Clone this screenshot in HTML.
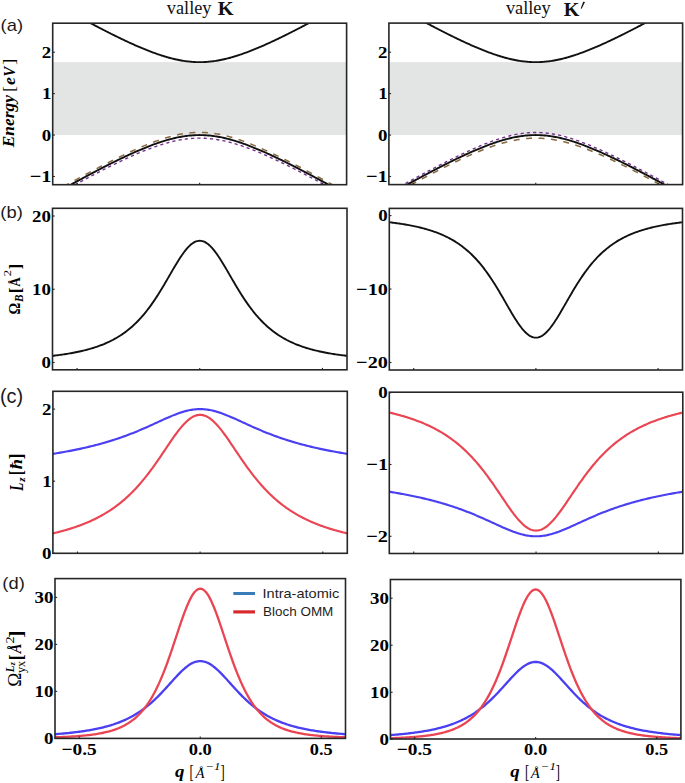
<!DOCTYPE html>
<html><head><meta charset="utf-8"><style>
html,body{margin:0;padding:0;background:#fff;}
body{width:685px;height:783px;overflow:hidden;font-family:"Liberation Serif",serif;}
svg{display:block;}
</style></head><body>
<svg width="685" height="783" viewBox="0 0 685 783">
<defs><clipPath id="caL"><rect x="52.70" y="23.20" width="293.90" height="161.50"/></clipPath><clipPath id="caR"><rect x="388.90" y="23.10" width="293.70" height="161.50"/></clipPath><clipPath id="cbL"><rect x="52.50" y="208.30" width="294.50" height="161.50"/></clipPath><clipPath id="cbR"><rect x="389.30" y="208.40" width="293.20" height="161.60"/></clipPath><clipPath id="ccL"><rect x="52.90" y="391.30" width="294.40" height="162.00"/></clipPath><clipPath id="ccR"><rect x="389.30" y="392.20" width="293.50" height="161.30"/></clipPath><clipPath id="cdL"><rect x="55.00" y="578.60" width="290.50" height="159.80"/></clipPath><clipPath id="cdR"><rect x="390.40" y="579.50" width="290.50" height="159.50"/></clipPath></defs>
<rect width="685" height="783" fill="#fff"/>
<rect x="52.70" y="62.14" width="293.90" height="72.93" fill="#e3e4e4"/>
<g clip-path="url(#caL)" fill="none" stroke-linecap="butt">
<path d="M52.70 192.60 L53.92 191.92 L55.15 191.23 L56.37 190.55 L57.60 189.86 L58.82 189.18 L60.05 188.50 L61.27 187.81 L62.50 187.13 L63.72 186.45 L64.95 185.77 L66.17 185.10 L67.39 184.42 L68.62 183.74 L69.84 183.07 L71.07 182.40 L72.29 181.72 L73.52 181.05 L74.74 180.38 L75.97 179.71 L77.19 179.05 L78.42 178.38 L79.64 177.71 L80.87 177.05 L82.09 176.39 L83.31 175.73 L84.54 175.07 L85.76 174.41 L86.99 173.75 L88.21 173.10 L89.44 172.44 L90.66 171.79 L91.89 171.14 L93.11 170.49 L94.34 169.84 L95.56 169.20 L96.78 168.56 L98.01 167.91 L99.23 167.27 L100.46 166.64 L101.68 166.00 L102.91 165.37 L104.13 164.74 L105.36 164.11 L106.58 163.48 L107.81 162.85 L109.03 162.23 L110.26 161.61 L111.48 161.00 L112.70 160.38 L113.93 159.77 L115.15 159.16 L116.38 158.55 L117.60 157.95 L118.83 157.35 L120.05 156.75 L121.28 156.16 L122.50 155.57 L123.73 154.98 L124.95 154.40 L126.17 153.82 L127.40 153.24 L128.62 152.67 L129.85 152.10 L131.07 151.53 L132.30 150.97 L133.52 150.42 L134.75 149.86 L135.97 149.32 L137.20 148.77 L138.42 148.24 L139.65 147.70 L140.87 147.18 L142.09 146.66 L143.32 146.14 L144.54 145.63 L145.77 145.12 L146.99 144.63 L148.22 144.13 L149.44 143.65 L150.67 143.17 L151.89 142.70 L153.12 142.23 L154.34 141.77 L155.56 141.32 L156.79 140.88 L158.01 140.45 L159.24 140.02 L160.46 139.60 L161.69 139.20 L162.91 138.80 L164.14 138.41 L165.36 138.03 L166.59 137.66 L167.81 137.30 L169.04 136.95 L170.26 136.61 L171.48 136.28 L172.71 135.96 L173.93 135.66 L175.16 135.36 L176.38 135.08 L177.61 134.81 L178.83 134.56 L180.06 134.31 L181.28 134.08 L182.51 133.87 L183.73 133.67 L184.95 133.48 L186.18 133.30 L187.40 133.14 L188.63 133.00 L189.85 132.87 L191.08 132.75 L192.30 132.65 L193.53 132.56 L194.75 132.49 L195.98 132.44 L197.20 132.40 L198.43 132.38 L199.65 132.37 L200.87 132.38 L202.10 132.40 L203.32 132.44 L204.55 132.49 L205.77 132.56 L207.00 132.65 L208.22 132.75 L209.45 132.87 L210.67 133.00 L211.90 133.14 L213.12 133.30 L214.35 133.48 L215.57 133.67 L216.79 133.87 L218.02 134.08 L219.24 134.31 L220.47 134.56 L221.69 134.81 L222.92 135.08 L224.14 135.36 L225.37 135.66 L226.59 135.96 L227.82 136.28 L229.04 136.61 L230.26 136.95 L231.49 137.30 L232.71 137.66 L233.94 138.03 L235.16 138.41 L236.39 138.80 L237.61 139.20 L238.84 139.60 L240.06 140.02 L241.29 140.45 L242.51 140.88 L243.74 141.32 L244.96 141.77 L246.18 142.23 L247.41 142.70 L248.63 143.17 L249.86 143.65 L251.08 144.13 L252.31 144.63 L253.53 145.12 L254.76 145.63 L255.98 146.14 L257.21 146.66 L258.43 147.18 L259.65 147.70 L260.88 148.24 L262.10 148.77 L263.33 149.32 L264.55 149.86 L265.78 150.42 L267.00 150.97 L268.23 151.53 L269.45 152.10 L270.68 152.67 L271.90 153.24 L273.12 153.82 L274.35 154.40 L275.57 154.98 L276.80 155.57 L278.02 156.16 L279.25 156.75 L280.47 157.35 L281.70 157.95 L282.92 158.55 L284.15 159.16 L285.37 159.77 L286.60 160.38 L287.82 161.00 L289.04 161.61 L290.27 162.23 L291.49 162.85 L292.72 163.48 L293.94 164.11 L295.17 164.74 L296.39 165.37 L297.62 166.00 L298.84 166.64 L300.07 167.27 L301.29 167.91 L302.52 168.56 L303.74 169.20 L304.96 169.84 L306.19 170.49 L307.41 171.14 L308.64 171.79 L309.86 172.44 L311.09 173.10 L312.31 173.75 L313.54 174.41 L314.76 175.07 L315.99 175.73 L317.21 176.39 L318.43 177.05 L319.66 177.71 L320.88 178.38 L322.11 179.05 L323.33 179.71 L324.56 180.38 L325.78 181.05 L327.01 181.72 L328.23 182.40 L329.46 183.07 L330.68 183.74 L331.90 184.42 L333.13 185.10 L334.35 185.77 L335.58 186.45 L336.80 187.13 L338.03 187.81 L339.25 188.50 L340.48 189.18 L341.70 189.86 L342.93 190.55 L344.15 191.23 L345.38 191.92 L346.60 192.60" stroke="#87683f" stroke-width="1.5" stroke-dasharray="6 6.5"/>
<path d="M52.70 197.03 L53.92 196.35 L55.15 195.66 L56.37 194.98 L57.60 194.30 L58.82 193.62 L60.05 192.94 L61.27 192.27 L62.50 191.59 L63.72 190.91 L64.95 190.24 L66.17 189.56 L67.39 188.89 L68.62 188.22 L69.84 187.55 L71.07 186.88 L72.29 186.21 L73.52 185.55 L74.74 184.88 L75.97 184.22 L77.19 183.55 L78.42 182.89 L79.64 182.23 L80.87 181.57 L82.09 180.92 L83.31 180.26 L84.54 179.61 L85.76 178.96 L86.99 178.30 L88.21 177.66 L89.44 177.01 L90.66 176.36 L91.89 175.72 L93.11 175.08 L94.34 174.44 L95.56 173.80 L96.78 173.16 L98.01 172.53 L99.23 171.89 L100.46 171.26 L101.68 170.64 L102.91 170.01 L104.13 169.39 L105.36 168.77 L106.58 168.15 L107.81 167.53 L109.03 166.92 L110.26 166.31 L111.48 165.70 L112.70 165.10 L113.93 164.50 L115.15 163.90 L116.38 163.30 L117.60 162.71 L118.83 162.12 L120.05 161.53 L121.28 160.95 L122.50 160.37 L123.73 159.80 L124.95 159.22 L126.17 158.66 L127.40 158.09 L128.62 157.53 L129.85 156.98 L131.07 156.43 L132.30 155.88 L133.52 155.34 L134.75 154.80 L135.97 154.27 L137.20 153.74 L138.42 153.22 L139.65 152.71 L140.87 152.20 L142.09 151.69 L143.32 151.19 L144.54 150.70 L145.77 150.21 L146.99 149.73 L148.22 149.26 L149.44 148.79 L150.67 148.33 L151.89 147.88 L153.12 147.43 L154.34 146.99 L155.56 146.56 L156.79 146.14 L158.01 145.73 L159.24 145.32 L160.46 144.93 L161.69 144.54 L162.91 144.16 L164.14 143.79 L165.36 143.43 L166.59 143.08 L167.81 142.75 L169.04 142.42 L170.26 142.10 L171.48 141.79 L172.71 141.49 L173.93 141.21 L175.16 140.94 L176.38 140.67 L177.61 140.42 L178.83 140.19 L180.06 139.96 L181.28 139.75 L182.51 139.55 L183.73 139.36 L184.95 139.19 L186.18 139.03 L187.40 138.88 L188.63 138.75 L189.85 138.63 L191.08 138.52 L192.30 138.43 L193.53 138.35 L194.75 138.28 L195.98 138.23 L197.20 138.20 L198.43 138.18 L199.65 138.17 L200.87 138.18 L202.10 138.20 L203.32 138.23 L204.55 138.28 L205.77 138.35 L207.00 138.43 L208.22 138.52 L209.45 138.63 L210.67 138.75 L211.90 138.88 L213.12 139.03 L214.35 139.19 L215.57 139.36 L216.79 139.55 L218.02 139.75 L219.24 139.96 L220.47 140.19 L221.69 140.42 L222.92 140.67 L224.14 140.94 L225.37 141.21 L226.59 141.49 L227.82 141.79 L229.04 142.10 L230.26 142.42 L231.49 142.75 L232.71 143.08 L233.94 143.43 L235.16 143.79 L236.39 144.16 L237.61 144.54 L238.84 144.93 L240.06 145.32 L241.29 145.73 L242.51 146.14 L243.74 146.56 L244.96 146.99 L246.18 147.43 L247.41 147.88 L248.63 148.33 L249.86 148.79 L251.08 149.26 L252.31 149.73 L253.53 150.21 L254.76 150.70 L255.98 151.19 L257.21 151.69 L258.43 152.20 L259.65 152.71 L260.88 153.22 L262.10 153.74 L263.33 154.27 L264.55 154.80 L265.78 155.34 L267.00 155.88 L268.23 156.43 L269.45 156.98 L270.68 157.53 L271.90 158.09 L273.12 158.66 L274.35 159.22 L275.57 159.80 L276.80 160.37 L278.02 160.95 L279.25 161.53 L280.47 162.12 L281.70 162.71 L282.92 163.30 L284.15 163.90 L285.37 164.50 L286.60 165.10 L287.82 165.70 L289.04 166.31 L290.27 166.92 L291.49 167.53 L292.72 168.15 L293.94 168.77 L295.17 169.39 L296.39 170.01 L297.62 170.64 L298.84 171.26 L300.07 171.89 L301.29 172.53 L302.52 173.16 L303.74 173.80 L304.96 174.44 L306.19 175.08 L307.41 175.72 L308.64 176.36 L309.86 177.01 L311.09 177.66 L312.31 178.30 L313.54 178.96 L314.76 179.61 L315.99 180.26 L317.21 180.92 L318.43 181.57 L319.66 182.23 L320.88 182.89 L322.11 183.55 L323.33 184.22 L324.56 184.88 L325.78 185.55 L327.01 186.21 L328.23 186.88 L329.46 187.55 L330.68 188.22 L331.90 188.89 L333.13 189.56 L334.35 190.24 L335.58 190.91 L336.80 191.59 L338.03 192.27 L339.25 192.94 L340.48 193.62 L341.70 194.30 L342.93 194.98 L344.15 195.66 L345.38 196.35 L346.60 197.03" stroke="#732f8c" stroke-width="1.35" stroke-dasharray="3.2 3.1"/>
<path d="M52.70 194.73 L53.92 194.04 L55.15 193.36 L56.37 192.67 L57.60 191.99 L58.82 191.31 L60.05 190.63 L61.27 189.95 L62.50 189.27 L63.72 188.59 L64.95 187.91 L66.17 187.24 L67.39 186.56 L68.62 185.89 L69.84 185.21 L71.07 184.54 L72.29 183.87 L73.52 183.20 L74.74 182.54 L75.97 181.87 L77.19 181.20 L78.42 180.54 L79.64 179.88 L80.87 179.21 L82.09 178.55 L83.31 177.89 L84.54 177.24 L85.76 176.58 L86.99 175.93 L88.21 175.27 L89.44 174.62 L90.66 173.97 L91.89 173.33 L93.11 172.68 L94.34 172.04 L95.56 171.39 L96.78 170.75 L98.01 170.11 L99.23 169.48 L100.46 168.84 L101.68 168.21 L102.91 167.58 L104.13 166.95 L105.36 166.33 L106.58 165.70 L107.81 165.08 L109.03 164.46 L110.26 163.85 L111.48 163.24 L112.70 162.63 L113.93 162.02 L115.15 161.41 L116.38 160.81 L117.60 160.21 L118.83 159.62 L120.05 159.02 L121.28 158.43 L122.50 157.85 L123.73 157.27 L124.95 156.69 L126.17 156.11 L127.40 155.54 L128.62 154.97 L129.85 154.41 L131.07 153.85 L132.30 153.30 L133.52 152.75 L134.75 152.20 L135.97 151.66 L137.20 151.13 L138.42 150.59 L139.65 150.07 L140.87 149.55 L142.09 149.03 L143.32 148.52 L144.54 148.02 L145.77 147.52 L146.99 147.03 L148.22 146.55 L149.44 146.07 L150.67 145.60 L151.89 145.14 L153.12 144.68 L154.34 144.23 L155.56 143.79 L156.79 143.36 L158.01 142.93 L159.24 142.51 L160.46 142.10 L161.69 141.70 L162.91 141.31 L164.14 140.93 L165.36 140.56 L166.59 140.20 L167.81 139.85 L169.04 139.51 L170.26 139.18 L171.48 138.86 L172.71 138.55 L173.93 138.25 L175.16 137.97 L176.38 137.69 L177.61 137.43 L178.83 137.19 L180.06 136.95 L181.28 136.73 L182.51 136.52 L183.73 136.32 L184.95 136.14 L186.18 135.97 L187.40 135.82 L188.63 135.68 L189.85 135.55 L191.08 135.44 L192.30 135.34 L193.53 135.26 L194.75 135.19 L195.98 135.14 L197.20 135.10 L198.43 135.08 L199.65 135.07 L200.87 135.08 L202.10 135.10 L203.32 135.14 L204.55 135.19 L205.77 135.26 L207.00 135.34 L208.22 135.44 L209.45 135.55 L210.67 135.68 L211.90 135.82 L213.12 135.97 L214.35 136.14 L215.57 136.32 L216.79 136.52 L218.02 136.73 L219.24 136.95 L220.47 137.19 L221.69 137.43 L222.92 137.69 L224.14 137.97 L225.37 138.25 L226.59 138.55 L227.82 138.86 L229.04 139.18 L230.26 139.51 L231.49 139.85 L232.71 140.20 L233.94 140.56 L235.16 140.93 L236.39 141.31 L237.61 141.70 L238.84 142.10 L240.06 142.51 L241.29 142.93 L242.51 143.36 L243.74 143.79 L244.96 144.23 L246.18 144.68 L247.41 145.14 L248.63 145.60 L249.86 146.07 L251.08 146.55 L252.31 147.03 L253.53 147.52 L254.76 148.02 L255.98 148.52 L257.21 149.03 L258.43 149.55 L259.65 150.07 L260.88 150.59 L262.10 151.13 L263.33 151.66 L264.55 152.20 L265.78 152.75 L267.00 153.30 L268.23 153.85 L269.45 154.41 L270.68 154.97 L271.90 155.54 L273.12 156.11 L274.35 156.69 L275.57 157.27 L276.80 157.85 L278.02 158.43 L279.25 159.02 L280.47 159.62 L281.70 160.21 L282.92 160.81 L284.15 161.41 L285.37 162.02 L286.60 162.63 L287.82 163.24 L289.04 163.85 L290.27 164.46 L291.49 165.08 L292.72 165.70 L293.94 166.33 L295.17 166.95 L296.39 167.58 L297.62 168.21 L298.84 168.84 L300.07 169.48 L301.29 170.11 L302.52 170.75 L303.74 171.39 L304.96 172.04 L306.19 172.68 L307.41 173.33 L308.64 173.97 L309.86 174.62 L311.09 175.27 L312.31 175.93 L313.54 176.58 L314.76 177.24 L315.99 177.89 L317.21 178.55 L318.43 179.21 L319.66 179.88 L320.88 180.54 L322.11 181.20 L323.33 181.87 L324.56 182.54 L325.78 183.20 L327.01 183.87 L328.23 184.54 L329.46 185.21 L330.68 185.89 L331.90 186.56 L333.13 187.24 L334.35 187.91 L335.58 188.59 L336.80 189.27 L338.03 189.95 L339.25 190.63 L340.48 191.31 L341.70 191.99 L342.93 192.67 L344.15 193.36 L345.38 194.04 L346.60 194.73" stroke="#111" stroke-width="1.9"/>
<path d="M52.70 2.49 L53.92 3.17 L55.15 3.86 L56.37 4.54 L57.60 5.22 L58.82 5.91 L60.05 6.59 L61.27 7.27 L62.50 7.95 L63.72 8.62 L64.95 9.30 L66.17 9.98 L67.39 10.65 L68.62 11.33 L69.84 12.00 L71.07 12.67 L72.29 13.34 L73.52 14.01 L74.74 14.68 L75.97 15.35 L77.19 16.01 L78.42 16.68 L79.64 17.34 L80.87 18.00 L82.09 18.66 L83.31 19.32 L84.54 19.98 L85.76 20.63 L86.99 21.29 L88.21 21.94 L89.44 22.59 L90.66 23.24 L91.89 23.89 L93.11 24.53 L94.34 25.18 L95.56 25.82 L96.78 26.46 L98.01 27.10 L99.23 27.74 L100.46 28.37 L101.68 29.00 L102.91 29.63 L104.13 30.26 L105.36 30.89 L106.58 31.51 L107.81 32.13 L109.03 32.75 L110.26 33.37 L111.48 33.98 L112.70 34.59 L113.93 35.20 L115.15 35.80 L116.38 36.40 L117.60 37.00 L118.83 37.60 L120.05 38.19 L121.28 38.78 L122.50 39.37 L123.73 39.95 L124.95 40.53 L126.17 41.10 L127.40 41.67 L128.62 42.24 L129.85 42.80 L131.07 43.36 L132.30 43.92 L133.52 44.47 L134.75 45.01 L135.97 45.55 L137.20 46.09 L138.42 46.62 L139.65 47.15 L140.87 47.67 L142.09 48.18 L143.32 48.69 L144.54 49.19 L145.77 49.69 L146.99 50.18 L148.22 50.67 L149.44 51.14 L150.67 51.61 L151.89 52.08 L153.12 52.53 L154.34 52.98 L155.56 53.43 L156.79 53.86 L158.01 54.28 L159.24 54.70 L160.46 55.11 L161.69 55.51 L162.91 55.90 L164.14 56.28 L165.36 56.65 L166.59 57.01 L167.81 57.37 L169.04 57.71 L170.26 58.04 L171.48 58.36 L172.71 58.67 L173.93 58.96 L175.16 59.25 L176.38 59.52 L177.61 59.78 L178.83 60.03 L180.06 60.26 L181.28 60.49 L182.51 60.70 L183.73 60.89 L184.95 61.08 L186.18 61.24 L187.40 61.40 L188.63 61.54 L189.85 61.67 L191.08 61.78 L192.30 61.87 L193.53 61.96 L194.75 62.02 L195.98 62.08 L197.20 62.11 L198.43 62.14 L199.65 62.14 L200.87 62.14 L202.10 62.11 L203.32 62.08 L204.55 62.02 L205.77 61.96 L207.00 61.87 L208.22 61.78 L209.45 61.67 L210.67 61.54 L211.90 61.40 L213.12 61.24 L214.35 61.08 L215.57 60.89 L216.79 60.70 L218.02 60.49 L219.24 60.26 L220.47 60.03 L221.69 59.78 L222.92 59.52 L224.14 59.25 L225.37 58.96 L226.59 58.67 L227.82 58.36 L229.04 58.04 L230.26 57.71 L231.49 57.37 L232.71 57.01 L233.94 56.65 L235.16 56.28 L236.39 55.90 L237.61 55.51 L238.84 55.11 L240.06 54.70 L241.29 54.28 L242.51 53.86 L243.74 53.43 L244.96 52.98 L246.18 52.53 L247.41 52.08 L248.63 51.61 L249.86 51.14 L251.08 50.67 L252.31 50.18 L253.53 49.69 L254.76 49.19 L255.98 48.69 L257.21 48.18 L258.43 47.67 L259.65 47.15 L260.88 46.62 L262.10 46.09 L263.33 45.55 L264.55 45.01 L265.78 44.47 L267.00 43.92 L268.23 43.36 L269.45 42.80 L270.68 42.24 L271.90 41.67 L273.12 41.10 L274.35 40.53 L275.57 39.95 L276.80 39.37 L278.02 38.78 L279.25 38.19 L280.47 37.60 L281.70 37.00 L282.92 36.40 L284.15 35.80 L285.37 35.20 L286.60 34.59 L287.82 33.98 L289.04 33.37 L290.27 32.75 L291.49 32.13 L292.72 31.51 L293.94 30.89 L295.17 30.26 L296.39 29.63 L297.62 29.00 L298.84 28.37 L300.07 27.74 L301.29 27.10 L302.52 26.46 L303.74 25.82 L304.96 25.18 L306.19 24.53 L307.41 23.89 L308.64 23.24 L309.86 22.59 L311.09 21.94 L312.31 21.29 L313.54 20.63 L314.76 19.98 L315.99 19.32 L317.21 18.66 L318.43 18.00 L319.66 17.34 L320.88 16.68 L322.11 16.01 L323.33 15.35 L324.56 14.68 L325.78 14.01 L327.01 13.34 L328.23 12.67 L329.46 12.00 L330.68 11.33 L331.90 10.65 L333.13 9.98 L334.35 9.30 L335.58 8.62 L336.80 7.95 L338.03 7.27 L339.25 6.59 L340.48 5.91 L341.70 5.22 L342.93 4.54 L344.15 3.86 L345.38 3.17 L346.60 2.49" stroke="#111" stroke-width="1.9"/>
</g>
<rect x="52.70" y="23.20" width="293.90" height="161.50" fill="none" stroke="#262626" stroke-width="1.6"/>
<line x1="77.19" y1="184.70" x2="77.19" y2="182.80" stroke="#262626" stroke-width="1.1"/><line x1="199.65" y1="184.70" x2="199.65" y2="182.80" stroke="#262626" stroke-width="1.1"/><line x1="322.11" y1="184.70" x2="322.11" y2="182.80" stroke="#262626" stroke-width="1.1"/>
<line x1="52.70" y1="176.50" x2="54.90" y2="176.50" stroke="#262626" stroke-width="1.1"/><line x1="52.70" y1="135.07" x2="54.90" y2="135.07" stroke="#262626" stroke-width="1.1"/><line x1="52.70" y1="93.63" x2="54.90" y2="93.63" stroke="#262626" stroke-width="1.1"/><line x1="52.70" y1="52.20" x2="54.90" y2="52.20" stroke="#262626" stroke-width="1.1"/>
<text x="29.72" y="182.15" font-family='"Liberation Serif",serif' font-size="17.20" font-weight="bold" font-style="normal" fill="#000" textLength="21.83" lengthAdjust="spacingAndGlyphs">−1</text><text x="41.76" y="140.71" font-family='"Liberation Serif",serif' font-size="17.20" font-weight="bold" font-style="normal" fill="#000" textLength="9.46" lengthAdjust="spacingAndGlyphs">0</text><text x="42.02" y="99.28" font-family='"Liberation Serif",serif' font-size="17.20" font-weight="bold" font-style="normal" fill="#000" textLength="9.46" lengthAdjust="spacingAndGlyphs">1</text><text x="41.85" y="57.84" font-family='"Liberation Serif",serif' font-size="17.20" font-weight="bold" font-style="normal" fill="#000" textLength="9.46" lengthAdjust="spacingAndGlyphs">2</text>
<rect x="388.90" y="62.14" width="293.70" height="72.93" fill="#e3e4e4"/>
<g clip-path="url(#caR)" fill="none" stroke-linecap="butt">
<path d="M388.90 192.68 L390.12 192.00 L391.35 191.31 L392.57 190.62 L393.79 189.94 L395.02 189.26 L396.24 188.57 L397.47 187.89 L398.69 187.21 L399.91 186.53 L401.14 185.85 L402.36 185.18 L403.58 184.50 L404.81 183.82 L406.03 183.15 L407.26 182.48 L408.48 181.80 L409.70 181.13 L410.93 180.46 L412.15 179.79 L413.38 179.13 L414.60 178.46 L415.82 177.79 L417.05 177.13 L418.27 176.47 L419.49 175.81 L420.72 175.15 L421.94 174.49 L423.16 173.83 L424.39 173.18 L425.61 172.52 L426.84 171.87 L428.06 171.22 L429.28 170.57 L430.51 169.93 L431.73 169.28 L432.95 168.64 L434.18 168.00 L435.40 167.36 L436.63 166.72 L437.85 166.08 L439.07 165.45 L440.30 164.82 L441.52 164.19 L442.75 163.56 L443.97 162.94 L445.19 162.32 L446.42 161.70 L447.64 161.08 L448.86 160.46 L450.09 159.85 L451.31 159.24 L452.53 158.64 L453.76 158.03 L454.98 157.43 L456.21 156.84 L457.43 156.24 L458.65 155.65 L459.88 155.06 L461.10 154.48 L462.32 153.90 L463.55 153.32 L464.77 152.75 L466.00 152.18 L467.22 151.62 L468.44 151.06 L469.67 150.50 L470.89 149.95 L472.12 149.40 L473.34 148.86 L474.56 148.32 L475.79 147.79 L477.01 147.27 L478.23 146.74 L479.46 146.23 L480.68 145.72 L481.90 145.21 L483.13 144.71 L484.35 144.22 L485.58 143.74 L486.80 143.26 L488.02 142.79 L489.25 142.32 L490.47 141.86 L491.69 141.42 L492.92 140.97 L494.14 140.54 L495.37 140.11 L496.59 139.70 L497.81 139.29 L499.04 138.89 L500.26 138.50 L501.49 138.12 L502.71 137.75 L503.93 137.39 L505.16 137.04 L506.38 136.70 L507.60 136.37 L508.83 136.06 L510.05 135.75 L511.27 135.46 L512.50 135.18 L513.72 134.91 L514.95 134.65 L516.17 134.41 L517.39 134.18 L518.62 133.97 L519.84 133.76 L521.06 133.58 L522.29 133.40 L523.51 133.24 L524.74 133.10 L525.96 132.97 L527.18 132.85 L528.41 132.75 L529.63 132.66 L530.86 132.59 L532.08 132.54 L533.30 132.50 L534.53 132.48 L535.75 132.47 L536.97 132.48 L538.20 132.50 L539.42 132.54 L540.64 132.59 L541.87 132.66 L543.09 132.75 L544.32 132.85 L545.54 132.97 L546.76 133.10 L547.99 133.24 L549.21 133.40 L550.44 133.58 L551.66 133.76 L552.88 133.97 L554.11 134.18 L555.33 134.41 L556.55 134.65 L557.78 134.91 L559.00 135.18 L560.23 135.46 L561.45 135.75 L562.67 136.06 L563.90 136.37 L565.12 136.70 L566.34 137.04 L567.57 137.39 L568.79 137.75 L570.01 138.12 L571.24 138.50 L572.46 138.89 L573.69 139.29 L574.91 139.70 L576.13 140.11 L577.36 140.54 L578.58 140.97 L579.80 141.42 L581.03 141.86 L582.25 142.32 L583.48 142.79 L584.70 143.26 L585.92 143.74 L587.15 144.22 L588.37 144.71 L589.60 145.21 L590.82 145.72 L592.04 146.23 L593.27 146.74 L594.49 147.27 L595.71 147.79 L596.94 148.32 L598.16 148.86 L599.38 149.40 L600.61 149.95 L601.83 150.50 L603.06 151.06 L604.28 151.62 L605.50 152.18 L606.73 152.75 L607.95 153.32 L609.18 153.90 L610.40 154.48 L611.62 155.06 L612.85 155.65 L614.07 156.24 L615.29 156.84 L616.52 157.43 L617.74 158.03 L618.97 158.64 L620.19 159.24 L621.41 159.85 L622.64 160.46 L623.86 161.08 L625.08 161.70 L626.31 162.32 L627.53 162.94 L628.75 163.56 L629.98 164.19 L631.20 164.82 L632.43 165.45 L633.65 166.08 L634.87 166.72 L636.10 167.36 L637.32 168.00 L638.55 168.64 L639.77 169.28 L640.99 169.93 L642.22 170.57 L643.44 171.22 L644.66 171.87 L645.89 172.52 L647.11 173.18 L648.34 173.83 L649.56 174.49 L650.78 175.15 L652.01 175.81 L653.23 176.47 L654.45 177.13 L655.68 177.79 L656.90 178.46 L658.12 179.13 L659.35 179.79 L660.57 180.46 L661.80 181.13 L663.02 181.80 L664.24 182.48 L665.47 183.15 L666.69 183.82 L667.91 184.50 L669.14 185.18 L670.36 185.85 L671.59 186.53 L672.81 187.21 L674.03 187.89 L675.26 188.57 L676.48 189.26 L677.71 189.94 L678.93 190.62 L680.15 191.31 L681.38 192.00 L682.60 192.68" stroke="#732f8c" stroke-width="1.35" stroke-dasharray="3.2 3.1"/>
<path d="M388.90 197.03 L390.12 196.35 L391.35 195.66 L392.57 194.98 L393.79 194.30 L395.02 193.62 L396.24 192.94 L397.47 192.27 L398.69 191.59 L399.91 190.91 L401.14 190.24 L402.36 189.56 L403.58 188.89 L404.81 188.22 L406.03 187.55 L407.26 186.88 L408.48 186.21 L409.70 185.55 L410.93 184.88 L412.15 184.22 L413.38 183.55 L414.60 182.89 L415.82 182.23 L417.05 181.57 L418.27 180.92 L419.49 180.26 L420.72 179.61 L421.94 178.96 L423.16 178.30 L424.39 177.66 L425.61 177.01 L426.84 176.36 L428.06 175.72 L429.28 175.08 L430.51 174.44 L431.73 173.80 L432.95 173.16 L434.18 172.53 L435.40 171.89 L436.63 171.26 L437.85 170.64 L439.07 170.01 L440.30 169.39 L441.52 168.77 L442.75 168.15 L443.97 167.53 L445.19 166.92 L446.42 166.31 L447.64 165.70 L448.86 165.10 L450.09 164.50 L451.31 163.90 L452.53 163.30 L453.76 162.71 L454.98 162.12 L456.21 161.53 L457.43 160.95 L458.65 160.37 L459.88 159.80 L461.10 159.22 L462.32 158.66 L463.55 158.09 L464.77 157.53 L466.00 156.98 L467.22 156.43 L468.44 155.88 L469.67 155.34 L470.89 154.80 L472.12 154.27 L473.34 153.74 L474.56 153.22 L475.79 152.71 L477.01 152.20 L478.23 151.69 L479.46 151.19 L480.68 150.70 L481.90 150.21 L483.13 149.73 L484.35 149.26 L485.58 148.79 L486.80 148.33 L488.02 147.88 L489.25 147.43 L490.47 146.99 L491.69 146.56 L492.92 146.14 L494.14 145.73 L495.37 145.32 L496.59 144.93 L497.81 144.54 L499.04 144.16 L500.26 143.79 L501.49 143.43 L502.71 143.08 L503.93 142.75 L505.16 142.42 L506.38 142.10 L507.60 141.79 L508.83 141.49 L510.05 141.21 L511.27 140.94 L512.50 140.67 L513.72 140.42 L514.95 140.19 L516.17 139.96 L517.39 139.75 L518.62 139.55 L519.84 139.36 L521.06 139.19 L522.29 139.03 L523.51 138.88 L524.74 138.75 L525.96 138.63 L527.18 138.52 L528.41 138.43 L529.63 138.35 L530.86 138.28 L532.08 138.23 L533.30 138.20 L534.53 138.18 L535.75 138.17 L536.97 138.18 L538.20 138.20 L539.42 138.23 L540.64 138.28 L541.87 138.35 L543.09 138.43 L544.32 138.52 L545.54 138.63 L546.76 138.75 L547.99 138.88 L549.21 139.03 L550.44 139.19 L551.66 139.36 L552.88 139.55 L554.11 139.75 L555.33 139.96 L556.55 140.19 L557.78 140.42 L559.00 140.67 L560.23 140.94 L561.45 141.21 L562.67 141.49 L563.90 141.79 L565.12 142.10 L566.34 142.42 L567.57 142.75 L568.79 143.08 L570.01 143.43 L571.24 143.79 L572.46 144.16 L573.69 144.54 L574.91 144.93 L576.13 145.32 L577.36 145.73 L578.58 146.14 L579.80 146.56 L581.03 146.99 L582.25 147.43 L583.48 147.88 L584.70 148.33 L585.92 148.79 L587.15 149.26 L588.37 149.73 L589.60 150.21 L590.82 150.70 L592.04 151.19 L593.27 151.69 L594.49 152.20 L595.71 152.71 L596.94 153.22 L598.16 153.74 L599.38 154.27 L600.61 154.80 L601.83 155.34 L603.06 155.88 L604.28 156.43 L605.50 156.98 L606.73 157.53 L607.95 158.09 L609.18 158.66 L610.40 159.22 L611.62 159.80 L612.85 160.37 L614.07 160.95 L615.29 161.53 L616.52 162.12 L617.74 162.71 L618.97 163.30 L620.19 163.90 L621.41 164.50 L622.64 165.10 L623.86 165.70 L625.08 166.31 L626.31 166.92 L627.53 167.53 L628.75 168.15 L629.98 168.77 L631.20 169.39 L632.43 170.01 L633.65 170.64 L634.87 171.26 L636.10 171.89 L637.32 172.53 L638.55 173.16 L639.77 173.80 L640.99 174.44 L642.22 175.08 L643.44 175.72 L644.66 176.36 L645.89 177.01 L647.11 177.66 L648.34 178.30 L649.56 178.96 L650.78 179.61 L652.01 180.26 L653.23 180.92 L654.45 181.57 L655.68 182.23 L656.90 182.89 L658.12 183.55 L659.35 184.22 L660.57 184.88 L661.80 185.55 L663.02 186.21 L664.24 186.88 L665.47 187.55 L666.69 188.22 L667.91 188.89 L669.14 189.56 L670.36 190.24 L671.59 190.91 L672.81 191.59 L674.03 192.27 L675.26 192.94 L676.48 193.62 L677.71 194.30 L678.93 194.98 L680.15 195.66 L681.38 196.35 L682.60 197.03" stroke="#87683f" stroke-width="1.5" stroke-dasharray="6 6.5"/>
<path d="M388.90 194.73 L390.12 194.04 L391.35 193.36 L392.57 192.67 L393.79 191.99 L395.02 191.31 L396.24 190.63 L397.47 189.95 L398.69 189.27 L399.91 188.59 L401.14 187.91 L402.36 187.24 L403.58 186.56 L404.81 185.89 L406.03 185.21 L407.26 184.54 L408.48 183.87 L409.70 183.20 L410.93 182.54 L412.15 181.87 L413.38 181.20 L414.60 180.54 L415.82 179.88 L417.05 179.21 L418.27 178.55 L419.49 177.89 L420.72 177.24 L421.94 176.58 L423.16 175.93 L424.39 175.27 L425.61 174.62 L426.84 173.97 L428.06 173.33 L429.28 172.68 L430.51 172.04 L431.73 171.39 L432.95 170.75 L434.18 170.11 L435.40 169.48 L436.63 168.84 L437.85 168.21 L439.07 167.58 L440.30 166.95 L441.52 166.33 L442.75 165.70 L443.97 165.08 L445.19 164.46 L446.42 163.85 L447.64 163.24 L448.86 162.63 L450.09 162.02 L451.31 161.41 L452.53 160.81 L453.76 160.21 L454.98 159.62 L456.21 159.02 L457.43 158.43 L458.65 157.85 L459.88 157.27 L461.10 156.69 L462.32 156.11 L463.55 155.54 L464.77 154.97 L466.00 154.41 L467.22 153.85 L468.44 153.30 L469.67 152.75 L470.89 152.20 L472.12 151.66 L473.34 151.13 L474.56 150.59 L475.79 150.07 L477.01 149.55 L478.23 149.03 L479.46 148.52 L480.68 148.02 L481.90 147.52 L483.13 147.03 L484.35 146.55 L485.58 146.07 L486.80 145.60 L488.02 145.14 L489.25 144.68 L490.47 144.23 L491.69 143.79 L492.92 143.36 L494.14 142.93 L495.37 142.51 L496.59 142.10 L497.81 141.70 L499.04 141.31 L500.26 140.93 L501.49 140.56 L502.71 140.20 L503.93 139.85 L505.16 139.51 L506.38 139.18 L507.60 138.86 L508.83 138.55 L510.05 138.25 L511.27 137.97 L512.50 137.69 L513.72 137.43 L514.95 137.19 L516.17 136.95 L517.39 136.73 L518.62 136.52 L519.84 136.32 L521.06 136.14 L522.29 135.97 L523.51 135.82 L524.74 135.68 L525.96 135.55 L527.18 135.44 L528.41 135.34 L529.63 135.26 L530.86 135.19 L532.08 135.14 L533.30 135.10 L534.53 135.08 L535.75 135.07 L536.97 135.08 L538.20 135.10 L539.42 135.14 L540.64 135.19 L541.87 135.26 L543.09 135.34 L544.32 135.44 L545.54 135.55 L546.76 135.68 L547.99 135.82 L549.21 135.97 L550.44 136.14 L551.66 136.32 L552.88 136.52 L554.11 136.73 L555.33 136.95 L556.55 137.19 L557.78 137.43 L559.00 137.69 L560.23 137.97 L561.45 138.25 L562.67 138.55 L563.90 138.86 L565.12 139.18 L566.34 139.51 L567.57 139.85 L568.79 140.20 L570.01 140.56 L571.24 140.93 L572.46 141.31 L573.69 141.70 L574.91 142.10 L576.13 142.51 L577.36 142.93 L578.58 143.36 L579.80 143.79 L581.03 144.23 L582.25 144.68 L583.48 145.14 L584.70 145.60 L585.92 146.07 L587.15 146.55 L588.37 147.03 L589.60 147.52 L590.82 148.02 L592.04 148.52 L593.27 149.03 L594.49 149.55 L595.71 150.07 L596.94 150.59 L598.16 151.13 L599.38 151.66 L600.61 152.20 L601.83 152.75 L603.06 153.30 L604.28 153.85 L605.50 154.41 L606.73 154.97 L607.95 155.54 L609.18 156.11 L610.40 156.69 L611.62 157.27 L612.85 157.85 L614.07 158.43 L615.29 159.02 L616.52 159.62 L617.74 160.21 L618.97 160.81 L620.19 161.41 L621.41 162.02 L622.64 162.63 L623.86 163.24 L625.08 163.85 L626.31 164.46 L627.53 165.08 L628.75 165.70 L629.98 166.33 L631.20 166.95 L632.43 167.58 L633.65 168.21 L634.87 168.84 L636.10 169.48 L637.32 170.11 L638.55 170.75 L639.77 171.39 L640.99 172.04 L642.22 172.68 L643.44 173.33 L644.66 173.97 L645.89 174.62 L647.11 175.27 L648.34 175.93 L649.56 176.58 L650.78 177.24 L652.01 177.89 L653.23 178.55 L654.45 179.21 L655.68 179.88 L656.90 180.54 L658.12 181.20 L659.35 181.87 L660.57 182.54 L661.80 183.20 L663.02 183.87 L664.24 184.54 L665.47 185.21 L666.69 185.89 L667.91 186.56 L669.14 187.24 L670.36 187.91 L671.59 188.59 L672.81 189.27 L674.03 189.95 L675.26 190.63 L676.48 191.31 L677.71 191.99 L678.93 192.67 L680.15 193.36 L681.38 194.04 L682.60 194.73" stroke="#111" stroke-width="1.9"/>
<path d="M388.90 2.49 L390.12 3.17 L391.35 3.86 L392.57 4.54 L393.79 5.22 L395.02 5.91 L396.24 6.59 L397.47 7.27 L398.69 7.95 L399.91 8.62 L401.14 9.30 L402.36 9.98 L403.58 10.65 L404.81 11.33 L406.03 12.00 L407.26 12.67 L408.48 13.34 L409.70 14.01 L410.93 14.68 L412.15 15.35 L413.38 16.01 L414.60 16.68 L415.82 17.34 L417.05 18.00 L418.27 18.66 L419.49 19.32 L420.72 19.98 L421.94 20.63 L423.16 21.29 L424.39 21.94 L425.61 22.59 L426.84 23.24 L428.06 23.89 L429.28 24.53 L430.51 25.18 L431.73 25.82 L432.95 26.46 L434.18 27.10 L435.40 27.74 L436.63 28.37 L437.85 29.00 L439.07 29.63 L440.30 30.26 L441.52 30.89 L442.75 31.51 L443.97 32.13 L445.19 32.75 L446.42 33.37 L447.64 33.98 L448.86 34.59 L450.09 35.20 L451.31 35.80 L452.53 36.40 L453.76 37.00 L454.98 37.60 L456.21 38.19 L457.43 38.78 L458.65 39.37 L459.88 39.95 L461.10 40.53 L462.32 41.10 L463.55 41.67 L464.77 42.24 L466.00 42.80 L467.22 43.36 L468.44 43.92 L469.67 44.47 L470.89 45.01 L472.12 45.55 L473.34 46.09 L474.56 46.62 L475.79 47.15 L477.01 47.67 L478.23 48.18 L479.46 48.69 L480.68 49.19 L481.90 49.69 L483.13 50.18 L484.35 50.67 L485.58 51.14 L486.80 51.61 L488.02 52.08 L489.25 52.53 L490.47 52.98 L491.69 53.43 L492.92 53.86 L494.14 54.28 L495.37 54.70 L496.59 55.11 L497.81 55.51 L499.04 55.90 L500.26 56.28 L501.49 56.65 L502.71 57.01 L503.93 57.37 L505.16 57.71 L506.38 58.04 L507.60 58.36 L508.83 58.67 L510.05 58.96 L511.27 59.25 L512.50 59.52 L513.72 59.78 L514.95 60.03 L516.17 60.26 L517.39 60.49 L518.62 60.70 L519.84 60.89 L521.06 61.08 L522.29 61.24 L523.51 61.40 L524.74 61.54 L525.96 61.67 L527.18 61.78 L528.41 61.87 L529.63 61.96 L530.86 62.02 L532.08 62.08 L533.30 62.11 L534.53 62.14 L535.75 62.14 L536.97 62.14 L538.20 62.11 L539.42 62.08 L540.64 62.02 L541.87 61.96 L543.09 61.87 L544.32 61.78 L545.54 61.67 L546.76 61.54 L547.99 61.40 L549.21 61.24 L550.44 61.08 L551.66 60.89 L552.88 60.70 L554.11 60.49 L555.33 60.26 L556.55 60.03 L557.78 59.78 L559.00 59.52 L560.23 59.25 L561.45 58.96 L562.67 58.67 L563.90 58.36 L565.12 58.04 L566.34 57.71 L567.57 57.37 L568.79 57.01 L570.01 56.65 L571.24 56.28 L572.46 55.90 L573.69 55.51 L574.91 55.11 L576.13 54.70 L577.36 54.28 L578.58 53.86 L579.80 53.43 L581.03 52.98 L582.25 52.53 L583.48 52.08 L584.70 51.61 L585.92 51.14 L587.15 50.67 L588.37 50.18 L589.60 49.69 L590.82 49.19 L592.04 48.69 L593.27 48.18 L594.49 47.67 L595.71 47.15 L596.94 46.62 L598.16 46.09 L599.38 45.55 L600.61 45.01 L601.83 44.47 L603.06 43.92 L604.28 43.36 L605.50 42.80 L606.73 42.24 L607.95 41.67 L609.18 41.10 L610.40 40.53 L611.62 39.95 L612.85 39.37 L614.07 38.78 L615.29 38.19 L616.52 37.60 L617.74 37.00 L618.97 36.40 L620.19 35.80 L621.41 35.20 L622.64 34.59 L623.86 33.98 L625.08 33.37 L626.31 32.75 L627.53 32.13 L628.75 31.51 L629.98 30.89 L631.20 30.26 L632.43 29.63 L633.65 29.00 L634.87 28.37 L636.10 27.74 L637.32 27.10 L638.55 26.46 L639.77 25.82 L640.99 25.18 L642.22 24.53 L643.44 23.89 L644.66 23.24 L645.89 22.59 L647.11 21.94 L648.34 21.29 L649.56 20.63 L650.78 19.98 L652.01 19.32 L653.23 18.66 L654.45 18.00 L655.68 17.34 L656.90 16.68 L658.12 16.01 L659.35 15.35 L660.57 14.68 L661.80 14.01 L663.02 13.34 L664.24 12.67 L665.47 12.00 L666.69 11.33 L667.91 10.65 L669.14 9.98 L670.36 9.30 L671.59 8.62 L672.81 7.95 L674.03 7.27 L675.26 6.59 L676.48 5.91 L677.71 5.22 L678.93 4.54 L680.15 3.86 L681.38 3.17 L682.60 2.49" stroke="#111" stroke-width="1.9"/>
</g>
<rect x="388.90" y="23.10" width="293.70" height="161.50" fill="none" stroke="#262626" stroke-width="1.6"/>
<line x1="413.38" y1="184.60" x2="413.38" y2="182.70" stroke="#262626" stroke-width="1.1"/><line x1="535.75" y1="184.60" x2="535.75" y2="182.70" stroke="#262626" stroke-width="1.1"/><line x1="658.12" y1="184.60" x2="658.12" y2="182.70" stroke="#262626" stroke-width="1.1"/>
<line x1="388.90" y1="176.50" x2="391.10" y2="176.50" stroke="#262626" stroke-width="1.1"/><line x1="388.90" y1="135.07" x2="391.10" y2="135.07" stroke="#262626" stroke-width="1.1"/><line x1="388.90" y1="93.63" x2="391.10" y2="93.63" stroke="#262626" stroke-width="1.1"/><line x1="388.90" y1="52.20" x2="391.10" y2="52.20" stroke="#262626" stroke-width="1.1"/>
<text x="365.92" y="182.15" font-family='"Liberation Serif",serif' font-size="17.20" font-weight="bold" font-style="normal" fill="#000" textLength="21.83" lengthAdjust="spacingAndGlyphs">−1</text><text x="377.96" y="140.71" font-family='"Liberation Serif",serif' font-size="17.20" font-weight="bold" font-style="normal" fill="#000" textLength="9.46" lengthAdjust="spacingAndGlyphs">0</text><text x="378.22" y="99.28" font-family='"Liberation Serif",serif' font-size="17.20" font-weight="bold" font-style="normal" fill="#000" textLength="9.46" lengthAdjust="spacingAndGlyphs">1</text><text x="378.05" y="57.84" font-family='"Liberation Serif",serif' font-size="17.20" font-weight="bold" font-style="normal" fill="#000" textLength="9.46" lengthAdjust="spacingAndGlyphs">2</text>
<g clip-path="url(#cbL)" fill="none"><path d="M52.50 355.85 L53.73 355.71 L54.95 355.56 L56.18 355.41 L57.41 355.25 L58.64 355.09 L59.86 354.93 L61.09 354.76 L62.32 354.58 L63.54 354.40 L64.77 354.21 L66.00 354.02 L67.22 353.83 L68.45 353.62 L69.68 353.42 L70.91 353.20 L72.13 352.98 L73.36 352.75 L74.59 352.52 L75.81 352.28 L77.04 352.03 L78.27 351.77 L79.50 351.50 L80.72 351.23 L81.95 350.95 L83.18 350.66 L84.40 350.36 L85.63 350.05 L86.86 349.73 L88.09 349.40 L89.31 349.06 L90.54 348.71 L91.77 348.35 L92.99 347.98 L94.22 347.59 L95.45 347.19 L96.67 346.78 L97.90 346.36 L99.13 345.92 L100.36 345.47 L101.58 345.00 L102.81 344.51 L104.04 344.01 L105.26 343.50 L106.49 342.96 L107.72 342.41 L108.95 341.84 L110.17 341.25 L111.40 340.64 L112.63 340.01 L113.85 339.35 L115.08 338.68 L116.31 337.98 L117.54 337.26 L118.76 336.51 L119.99 335.74 L121.22 334.94 L122.44 334.11 L123.67 333.26 L124.90 332.38 L126.12 331.46 L127.35 330.52 L128.58 329.55 L129.81 328.54 L131.03 327.50 L132.26 326.42 L133.49 325.31 L134.71 324.16 L135.94 322.98 L137.17 321.76 L138.40 320.49 L139.62 319.19 L140.85 317.85 L142.08 316.47 L143.30 315.05 L144.53 313.59 L145.76 312.08 L146.99 310.53 L148.21 308.94 L149.44 307.31 L150.67 305.63 L151.89 303.91 L153.12 302.15 L154.35 300.35 L155.57 298.51 L156.80 296.63 L158.03 294.72 L159.26 292.77 L160.48 290.78 L161.71 288.77 L162.94 286.73 L164.16 284.66 L165.39 282.58 L166.62 280.48 L167.85 278.36 L169.07 276.24 L170.30 274.11 L171.53 271.99 L172.75 269.88 L173.98 267.79 L175.21 265.71 L176.44 263.67 L177.66 261.67 L178.89 259.71 L180.12 257.80 L181.34 255.95 L182.57 254.18 L183.80 252.48 L185.02 250.87 L186.25 249.35 L187.48 247.93 L188.71 246.62 L189.93 245.43 L191.16 244.36 L192.39 243.42 L193.61 242.62 L194.84 241.96 L196.07 241.43 L197.30 241.06 L198.52 240.83 L199.75 240.76 L200.98 240.83 L202.20 241.06 L203.43 241.43 L204.66 241.96 L205.89 242.62 L207.11 243.42 L208.34 244.36 L209.57 245.43 L210.79 246.62 L212.02 247.93 L213.25 249.35 L214.48 250.87 L215.70 252.48 L216.93 254.18 L218.16 255.95 L219.38 257.80 L220.61 259.71 L221.84 261.67 L223.06 263.67 L224.29 265.71 L225.52 267.79 L226.75 269.88 L227.97 271.99 L229.20 274.11 L230.43 276.24 L231.65 278.36 L232.88 280.48 L234.11 282.58 L235.34 284.66 L236.56 286.73 L237.79 288.77 L239.02 290.78 L240.24 292.77 L241.47 294.72 L242.70 296.63 L243.92 298.51 L245.15 300.35 L246.38 302.15 L247.61 303.91 L248.83 305.63 L250.06 307.31 L251.29 308.94 L252.51 310.53 L253.74 312.08 L254.97 313.59 L256.20 315.05 L257.42 316.47 L258.65 317.85 L259.88 319.19 L261.10 320.49 L262.33 321.76 L263.56 322.98 L264.79 324.16 L266.01 325.31 L267.24 326.42 L268.47 327.50 L269.69 328.54 L270.92 329.55 L272.15 330.52 L273.38 331.46 L274.60 332.38 L275.83 333.26 L277.06 334.11 L278.28 334.94 L279.51 335.74 L280.74 336.51 L281.96 337.26 L283.19 337.98 L284.42 338.68 L285.65 339.35 L286.87 340.01 L288.10 340.64 L289.33 341.25 L290.55 341.84 L291.78 342.41 L293.01 342.96 L294.24 343.50 L295.46 344.01 L296.69 344.51 L297.92 345.00 L299.14 345.47 L300.37 345.92 L301.60 346.36 L302.83 346.78 L304.05 347.19 L305.28 347.59 L306.51 347.98 L307.73 348.35 L308.96 348.71 L310.19 349.06 L311.41 349.40 L312.64 349.73 L313.87 350.05 L315.10 350.36 L316.32 350.66 L317.55 350.95 L318.78 351.23 L320.00 351.50 L321.23 351.77 L322.46 352.03 L323.69 352.28 L324.91 352.52 L326.14 352.75 L327.37 352.98 L328.59 353.20 L329.82 353.42 L331.05 353.62 L332.27 353.83 L333.50 354.02 L334.73 354.21 L335.96 354.40 L337.18 354.58 L338.41 354.76 L339.64 354.93 L340.86 355.09 L342.09 355.25 L343.32 355.41 L344.55 355.56 L345.77 355.71 L347.00 355.85" stroke="#111" stroke-width="1.9"/></g>
<g clip-path="url(#cbR)" fill="none"><path d="M389.30 222.26 L390.52 222.41 L391.74 222.56 L392.96 222.71 L394.19 222.87 L395.41 223.03 L396.63 223.20 L397.85 223.37 L399.07 223.54 L400.29 223.72 L401.52 223.91 L402.74 224.10 L403.96 224.30 L405.18 224.50 L406.40 224.71 L407.62 224.92 L408.85 225.15 L410.07 225.38 L411.29 225.61 L412.51 225.85 L413.73 226.10 L414.95 226.36 L416.18 226.63 L417.40 226.90 L418.62 227.18 L419.84 227.47 L421.06 227.77 L422.28 228.08 L423.51 228.40 L424.73 228.73 L425.95 229.07 L427.17 229.42 L428.39 229.79 L429.62 230.16 L430.84 230.55 L432.06 230.95 L433.28 231.36 L434.50 231.79 L435.72 232.23 L436.94 232.68 L438.17 233.15 L439.39 233.64 L440.61 234.14 L441.83 234.66 L443.05 235.19 L444.27 235.75 L445.50 236.32 L446.72 236.91 L447.94 237.52 L449.16 238.16 L450.38 238.81 L451.60 239.49 L452.83 240.19 L454.05 240.91 L455.27 241.66 L456.49 242.44 L457.71 243.24 L458.93 244.06 L460.16 244.92 L461.38 245.81 L462.60 246.72 L463.82 247.67 L465.04 248.64 L466.26 249.66 L467.49 250.70 L468.71 251.78 L469.93 252.89 L471.15 254.04 L472.37 255.23 L473.59 256.46 L474.82 257.72 L476.04 259.02 L477.26 260.37 L478.48 261.75 L479.70 263.18 L480.92 264.65 L482.15 266.16 L483.37 267.71 L484.59 269.31 L485.81 270.95 L487.03 272.63 L488.25 274.35 L489.48 276.11 L490.70 277.92 L491.92 279.76 L493.14 281.65 L494.36 283.57 L495.58 285.52 L496.81 287.51 L498.03 289.53 L499.25 291.58 L500.47 293.65 L501.69 295.74 L502.91 297.85 L504.14 299.97 L505.36 302.10 L506.58 304.23 L507.80 306.35 L509.02 308.47 L510.25 310.57 L511.47 312.65 L512.69 314.70 L513.91 316.71 L515.13 318.67 L516.35 320.59 L517.58 322.44 L518.80 324.22 L520.02 325.92 L521.24 327.54 L522.46 329.06 L523.68 330.48 L524.90 331.79 L526.13 332.99 L527.35 334.06 L528.57 335.00 L529.79 335.81 L531.01 336.47 L532.24 337.00 L533.46 337.37 L534.68 337.60 L535.90 337.67 L537.12 337.60 L538.34 337.37 L539.56 337.00 L540.79 336.47 L542.01 335.81 L543.23 335.00 L544.45 334.06 L545.67 332.99 L546.89 331.79 L548.12 330.48 L549.34 329.06 L550.56 327.54 L551.78 325.92 L553.00 324.22 L554.23 322.44 L555.45 320.59 L556.67 318.67 L557.89 316.71 L559.11 314.70 L560.33 312.65 L561.55 310.57 L562.78 308.47 L564.00 306.35 L565.22 304.23 L566.44 302.10 L567.66 299.97 L568.88 297.85 L570.11 295.74 L571.33 293.65 L572.55 291.58 L573.77 289.53 L574.99 287.51 L576.22 285.52 L577.44 283.57 L578.66 281.65 L579.88 279.76 L581.10 277.92 L582.32 276.11 L583.54 274.35 L584.77 272.63 L585.99 270.95 L587.21 269.31 L588.43 267.71 L589.65 266.16 L590.88 264.65 L592.10 263.18 L593.32 261.75 L594.54 260.37 L595.76 259.02 L596.98 257.72 L598.20 256.46 L599.43 255.23 L600.65 254.04 L601.87 252.89 L603.09 251.78 L604.31 250.70 L605.53 249.66 L606.76 248.64 L607.98 247.67 L609.20 246.72 L610.42 245.81 L611.64 244.92 L612.87 244.06 L614.09 243.24 L615.31 242.44 L616.53 241.66 L617.75 240.91 L618.97 240.19 L620.19 239.49 L621.42 238.81 L622.64 238.16 L623.86 237.52 L625.08 236.91 L626.30 236.32 L627.52 235.75 L628.75 235.19 L629.97 234.66 L631.19 234.14 L632.41 233.64 L633.63 233.15 L634.86 232.68 L636.08 232.23 L637.30 231.79 L638.52 231.36 L639.74 230.95 L640.96 230.55 L642.18 230.16 L643.41 229.79 L644.63 229.42 L645.85 229.07 L647.07 228.73 L648.29 228.40 L649.51 228.08 L650.74 227.77 L651.96 227.47 L653.18 227.18 L654.40 226.90 L655.62 226.63 L656.85 226.36 L658.07 226.10 L659.29 225.85 L660.51 225.61 L661.73 225.38 L662.95 225.15 L664.17 224.92 L665.40 224.71 L666.62 224.50 L667.84 224.30 L669.06 224.10 L670.28 223.91 L671.50 223.72 L672.73 223.54 L673.95 223.37 L675.17 223.20 L676.39 223.03 L677.61 222.87 L678.83 222.71 L680.06 222.56 L681.28 222.41 L682.50 222.26" stroke="#111" stroke-width="1.9"/></g>
<rect x="52.50" y="208.30" width="294.50" height="161.50" fill="none" stroke="#262626" stroke-width="1.6"/>
<line x1="77.04" y1="369.80" x2="77.04" y2="367.90" stroke="#262626" stroke-width="1.1"/><line x1="199.75" y1="369.80" x2="199.75" y2="367.90" stroke="#262626" stroke-width="1.1"/><line x1="322.46" y1="369.80" x2="322.46" y2="367.90" stroke="#262626" stroke-width="1.1"/>
<line x1="52.50" y1="362.50" x2="54.70" y2="362.50" stroke="#262626" stroke-width="1.1"/><line x1="52.50" y1="289.25" x2="54.70" y2="289.25" stroke="#262626" stroke-width="1.1"/><line x1="52.50" y1="216.00" x2="54.70" y2="216.00" stroke="#262626" stroke-width="1.1"/>
<text x="41.56" y="368.14" font-family='"Liberation Serif",serif' font-size="17.20" font-weight="bold" font-style="normal" fill="#000" textLength="9.46" lengthAdjust="spacingAndGlyphs">0</text><text x="32.10" y="294.89" font-family='"Liberation Serif",serif' font-size="17.20" font-weight="bold" font-style="normal" fill="#000" textLength="18.92" lengthAdjust="spacingAndGlyphs">10</text><text x="32.10" y="221.64" font-family='"Liberation Serif",serif' font-size="17.20" font-weight="bold" font-style="normal" fill="#000" textLength="18.92" lengthAdjust="spacingAndGlyphs">20</text>
<rect x="389.30" y="208.40" width="293.20" height="161.60" fill="none" stroke="#262626" stroke-width="1.6"/>
<line x1="413.73" y1="370.00" x2="413.73" y2="368.10" stroke="#262626" stroke-width="1.1"/><line x1="535.90" y1="370.00" x2="535.90" y2="368.10" stroke="#262626" stroke-width="1.1"/><line x1="658.07" y1="370.00" x2="658.07" y2="368.10" stroke="#262626" stroke-width="1.1"/>
<line x1="389.30" y1="215.60" x2="391.50" y2="215.60" stroke="#262626" stroke-width="1.1"/><line x1="389.30" y1="289.05" x2="391.50" y2="289.05" stroke="#262626" stroke-width="1.1"/><line x1="389.30" y1="362.50" x2="391.50" y2="362.50" stroke="#262626" stroke-width="1.1"/>
<text x="378.36" y="221.24" font-family='"Liberation Serif",serif' font-size="17.20" font-weight="bold" font-style="normal" fill="#000" textLength="9.46" lengthAdjust="spacingAndGlyphs">0</text><text x="356.13" y="294.69" font-family='"Liberation Serif",serif' font-size="17.20" font-weight="bold" font-style="normal" fill="#000" textLength="31.74" lengthAdjust="spacingAndGlyphs">−10</text><text x="356.13" y="368.14" font-family='"Liberation Serif",serif' font-size="17.20" font-weight="bold" font-style="normal" fill="#000" textLength="31.74" lengthAdjust="spacingAndGlyphs">−20</text>
<g clip-path="url(#ccL)" fill="none"><path d="M52.90 453.85 L54.13 453.65 L55.35 453.45 L56.58 453.25 L57.81 453.05 L59.03 452.84 L60.26 452.63 L61.49 452.42 L62.71 452.20 L63.94 451.98 L65.17 451.76 L66.39 451.54 L67.62 451.31 L68.85 451.08 L70.07 450.85 L71.30 450.61 L72.53 450.37 L73.75 450.12 L74.98 449.88 L76.21 449.63 L77.43 449.37 L78.66 449.11 L79.89 448.85 L81.11 448.59 L82.34 448.32 L83.57 448.04 L84.79 447.77 L86.02 447.48 L87.25 447.20 L88.47 446.91 L89.70 446.62 L90.93 446.32 L92.15 446.02 L93.38 445.71 L94.61 445.40 L95.83 445.08 L97.06 444.76 L98.29 444.44 L99.51 444.10 L100.74 443.77 L101.97 443.43 L103.19 443.08 L104.42 442.73 L105.65 442.38 L106.87 442.02 L108.10 441.65 L109.33 441.28 L110.55 440.90 L111.78 440.52 L113.01 440.13 L114.23 439.74 L115.46 439.34 L116.69 438.94 L117.91 438.53 L119.14 438.11 L120.37 437.69 L121.59 437.26 L122.82 436.82 L124.05 436.38 L125.27 435.94 L126.50 435.48 L127.73 435.02 L128.95 434.56 L130.18 434.09 L131.41 433.61 L132.63 433.13 L133.86 432.64 L135.09 432.15 L136.31 431.65 L137.54 431.14 L138.77 430.63 L139.99 430.11 L141.22 429.59 L142.45 429.07 L143.67 428.53 L144.90 428.00 L146.13 427.46 L147.35 426.91 L148.58 426.36 L149.81 425.81 L151.03 425.26 L152.26 424.70 L153.49 424.14 L154.71 423.58 L155.94 423.01 L157.17 422.45 L158.39 421.89 L159.62 421.32 L160.85 420.76 L162.07 420.20 L163.30 419.64 L164.53 419.09 L165.75 418.54 L166.98 417.99 L168.21 417.45 L169.43 416.92 L170.66 416.40 L171.89 415.88 L173.11 415.38 L174.34 414.89 L175.57 414.41 L176.79 413.94 L178.02 413.49 L179.25 413.05 L180.47 412.63 L181.70 412.23 L182.93 411.85 L184.15 411.49 L185.38 411.15 L186.61 410.84 L187.83 410.54 L189.06 410.28 L190.29 410.03 L191.51 409.82 L192.74 409.63 L193.97 409.47 L195.19 409.34 L196.42 409.23 L197.65 409.16 L198.87 409.11 L200.10 409.10 L201.33 409.11 L202.55 409.16 L203.78 409.23 L205.01 409.34 L206.23 409.47 L207.46 409.63 L208.69 409.82 L209.91 410.03 L211.14 410.28 L212.37 410.54 L213.59 410.84 L214.82 411.15 L216.05 411.49 L217.27 411.85 L218.50 412.23 L219.73 412.63 L220.95 413.05 L222.18 413.49 L223.41 413.94 L224.63 414.41 L225.86 414.89 L227.09 415.38 L228.31 415.88 L229.54 416.40 L230.77 416.92 L231.99 417.45 L233.22 417.99 L234.45 418.54 L235.67 419.09 L236.90 419.64 L238.13 420.20 L239.35 420.76 L240.58 421.32 L241.81 421.89 L243.03 422.45 L244.26 423.01 L245.49 423.58 L246.71 424.14 L247.94 424.70 L249.17 425.26 L250.39 425.81 L251.62 426.36 L252.85 426.91 L254.07 427.46 L255.30 428.00 L256.53 428.53 L257.75 429.07 L258.98 429.59 L260.21 430.11 L261.43 430.63 L262.66 431.14 L263.89 431.65 L265.11 432.15 L266.34 432.64 L267.57 433.13 L268.79 433.61 L270.02 434.09 L271.25 434.56 L272.47 435.02 L273.70 435.48 L274.93 435.94 L276.15 436.38 L277.38 436.82 L278.61 437.26 L279.83 437.69 L281.06 438.11 L282.29 438.53 L283.51 438.94 L284.74 439.34 L285.97 439.74 L287.19 440.13 L288.42 440.52 L289.65 440.90 L290.87 441.28 L292.10 441.65 L293.33 442.02 L294.55 442.38 L295.78 442.73 L297.01 443.08 L298.23 443.43 L299.46 443.77 L300.69 444.10 L301.91 444.44 L303.14 444.76 L304.37 445.08 L305.59 445.40 L306.82 445.71 L308.05 446.02 L309.27 446.32 L310.50 446.62 L311.73 446.91 L312.95 447.20 L314.18 447.48 L315.41 447.77 L316.63 448.04 L317.86 448.32 L319.09 448.59 L320.31 448.85 L321.54 449.11 L322.77 449.37 L323.99 449.63 L325.22 449.88 L326.45 450.12 L327.67 450.37 L328.90 450.61 L330.13 450.85 L331.35 451.08 L332.58 451.31 L333.81 451.54 L335.03 451.76 L336.26 451.98 L337.49 452.20 L338.71 452.42 L339.94 452.63 L341.17 452.84 L342.39 453.05 L343.62 453.25 L344.85 453.45 L346.07 453.65 L347.30 453.85" stroke="#4a40f2" stroke-width="2.15"/><path d="M52.90 533.38 L54.13 533.09 L55.35 532.80 L56.58 532.50 L57.81 532.19 L59.03 531.88 L60.26 531.56 L61.49 531.24 L62.71 530.91 L63.94 530.57 L65.17 530.22 L66.39 529.87 L67.62 529.51 L68.85 529.14 L70.07 528.76 L71.30 528.38 L72.53 527.98 L73.75 527.58 L74.98 527.17 L76.21 526.75 L77.43 526.32 L78.66 525.88 L79.89 525.43 L81.11 524.97 L82.34 524.50 L83.57 524.02 L84.79 523.53 L86.02 523.03 L87.25 522.51 L88.47 521.99 L89.70 521.45 L90.93 520.90 L92.15 520.33 L93.38 519.76 L94.61 519.16 L95.83 518.56 L97.06 517.94 L98.29 517.31 L99.51 516.66 L100.74 515.99 L101.97 515.31 L103.19 514.61 L104.42 513.90 L105.65 513.17 L106.87 512.42 L108.10 511.65 L109.33 510.86 L110.55 510.06 L111.78 509.24 L113.01 508.39 L114.23 507.53 L115.46 506.64 L116.69 505.73 L117.91 504.80 L119.14 503.85 L120.37 502.88 L121.59 501.88 L122.82 500.86 L124.05 499.81 L125.27 498.74 L126.50 497.64 L127.73 496.52 L128.95 495.37 L130.18 494.20 L131.41 492.99 L132.63 491.77 L133.86 490.51 L135.09 489.22 L136.31 487.91 L137.54 486.57 L138.77 485.20 L139.99 483.80 L141.22 482.38 L142.45 480.92 L143.67 479.44 L144.90 477.92 L146.13 476.38 L147.35 474.82 L148.58 473.22 L149.81 471.60 L151.03 469.96 L152.26 468.29 L153.49 466.59 L154.71 464.88 L155.94 463.14 L157.17 461.38 L158.39 459.61 L159.62 457.82 L160.85 456.02 L162.07 454.21 L163.30 452.39 L164.53 450.56 L165.75 448.73 L166.98 446.91 L168.21 445.09 L169.43 443.28 L170.66 441.48 L171.89 439.69 L173.11 437.93 L174.34 436.20 L175.57 434.50 L176.79 432.83 L178.02 431.21 L179.25 429.63 L180.47 428.11 L181.70 426.64 L182.93 425.24 L184.15 423.90 L185.38 422.64 L186.61 421.46 L187.83 420.36 L189.06 419.35 L190.29 418.43 L191.51 417.61 L192.74 416.90 L193.97 416.28 L195.19 415.78 L196.42 415.38 L197.65 415.10 L198.87 414.93 L200.10 414.87 L201.33 414.93 L202.55 415.10 L203.78 415.38 L205.01 415.78 L206.23 416.28 L207.46 416.90 L208.69 417.61 L209.91 418.43 L211.14 419.35 L212.37 420.36 L213.59 421.46 L214.82 422.64 L216.05 423.90 L217.27 425.24 L218.50 426.64 L219.73 428.11 L220.95 429.63 L222.18 431.21 L223.41 432.83 L224.63 434.50 L225.86 436.20 L227.09 437.93 L228.31 439.69 L229.54 441.48 L230.77 443.28 L231.99 445.09 L233.22 446.91 L234.45 448.73 L235.67 450.56 L236.90 452.39 L238.13 454.21 L239.35 456.02 L240.58 457.82 L241.81 459.61 L243.03 461.38 L244.26 463.14 L245.49 464.88 L246.71 466.59 L247.94 468.29 L249.17 469.96 L250.39 471.60 L251.62 473.22 L252.85 474.82 L254.07 476.38 L255.30 477.92 L256.53 479.44 L257.75 480.92 L258.98 482.38 L260.21 483.80 L261.43 485.20 L262.66 486.57 L263.89 487.91 L265.11 489.22 L266.34 490.51 L267.57 491.77 L268.79 492.99 L270.02 494.20 L271.25 495.37 L272.47 496.52 L273.70 497.64 L274.93 498.74 L276.15 499.81 L277.38 500.86 L278.61 501.88 L279.83 502.88 L281.06 503.85 L282.29 504.80 L283.51 505.73 L284.74 506.64 L285.97 507.53 L287.19 508.39 L288.42 509.24 L289.65 510.06 L290.87 510.86 L292.10 511.65 L293.33 512.42 L294.55 513.17 L295.78 513.90 L297.01 514.61 L298.23 515.31 L299.46 515.99 L300.69 516.66 L301.91 517.31 L303.14 517.94 L304.37 518.56 L305.59 519.16 L306.82 519.76 L308.05 520.33 L309.27 520.90 L310.50 521.45 L311.73 521.99 L312.95 522.51 L314.18 523.03 L315.41 523.53 L316.63 524.02 L317.86 524.50 L319.09 524.97 L320.31 525.43 L321.54 525.88 L322.77 526.32 L323.99 526.75 L325.22 527.17 L326.45 527.58 L327.67 527.98 L328.90 528.38 L330.13 528.76 L331.35 529.14 L332.58 529.51 L333.81 529.87 L335.03 530.22 L336.26 530.57 L337.49 530.91 L338.71 531.24 L339.94 531.56 L341.17 531.88 L342.39 532.19 L343.62 532.50 L344.85 532.80 L346.07 533.09 L347.30 533.38" stroke="#ea4553" stroke-width="2.15"/></g>
<g clip-path="url(#ccR)" fill="none"><path d="M389.30 491.74 L390.52 491.93 L391.75 492.13 L392.97 492.33 L394.19 492.54 L395.41 492.74 L396.64 492.95 L397.86 493.16 L399.08 493.38 L400.31 493.59 L401.53 493.82 L402.75 494.04 L403.97 494.27 L405.20 494.50 L406.42 494.73 L407.64 494.96 L408.87 495.20 L410.09 495.45 L411.31 495.69 L412.54 495.94 L413.76 496.20 L414.98 496.45 L416.20 496.71 L417.43 496.98 L418.65 497.25 L419.87 497.52 L421.10 497.80 L422.32 498.08 L423.54 498.36 L424.76 498.65 L425.99 498.94 L427.21 499.24 L428.43 499.54 L429.66 499.84 L430.88 500.15 L432.10 500.47 L433.32 500.79 L434.55 501.11 L435.77 501.44 L436.99 501.77 L438.22 502.11 L439.44 502.46 L440.66 502.81 L441.89 503.16 L443.11 503.52 L444.33 503.88 L445.55 504.25 L446.78 504.63 L448.00 505.01 L449.22 505.40 L450.45 505.79 L451.67 506.18 L452.89 506.59 L454.11 507.00 L455.34 507.41 L456.56 507.83 L457.78 508.26 L459.01 508.69 L460.23 509.13 L461.45 509.58 L462.67 510.03 L463.90 510.48 L465.12 510.95 L466.34 511.42 L467.57 511.89 L468.79 512.37 L470.01 512.86 L471.24 513.35 L472.46 513.85 L473.68 514.35 L474.90 514.86 L476.13 515.37 L477.35 515.89 L478.57 516.42 L479.80 516.95 L481.02 517.48 L482.24 518.02 L483.46 518.56 L484.69 519.11 L485.91 519.66 L487.13 520.21 L488.36 520.77 L489.58 521.32 L490.80 521.88 L492.02 522.44 L493.25 523.01 L494.47 523.57 L495.69 524.13 L496.92 524.69 L498.14 525.25 L499.36 525.80 L500.59 526.35 L501.81 526.90 L503.03 527.44 L504.25 527.98 L505.48 528.51 L506.70 529.03 L507.92 529.54 L509.15 530.05 L510.37 530.54 L511.59 531.01 L512.81 531.48 L514.04 531.93 L515.26 532.36 L516.48 532.78 L517.71 533.18 L518.93 533.56 L520.15 533.92 L521.38 534.26 L522.60 534.57 L523.82 534.86 L525.04 535.13 L526.27 535.37 L527.49 535.58 L528.71 535.77 L529.94 535.93 L531.16 536.06 L532.38 536.17 L533.60 536.24 L534.83 536.29 L536.05 536.30 L537.27 536.29 L538.50 536.24 L539.72 536.17 L540.94 536.06 L542.16 535.93 L543.39 535.77 L544.61 535.58 L545.83 535.37 L547.06 535.13 L548.28 534.86 L549.50 534.57 L550.72 534.26 L551.95 533.92 L553.17 533.56 L554.39 533.18 L555.62 532.78 L556.84 532.36 L558.06 531.93 L559.29 531.48 L560.51 531.01 L561.73 530.54 L562.95 530.05 L564.18 529.54 L565.40 529.03 L566.62 528.51 L567.85 527.98 L569.07 527.44 L570.29 526.90 L571.51 526.35 L572.74 525.80 L573.96 525.25 L575.18 524.69 L576.41 524.13 L577.63 523.57 L578.85 523.01 L580.07 522.44 L581.30 521.88 L582.52 521.32 L583.74 520.77 L584.97 520.21 L586.19 519.66 L587.41 519.11 L588.64 518.56 L589.86 518.02 L591.08 517.48 L592.30 516.95 L593.53 516.42 L594.75 515.89 L595.97 515.37 L597.20 514.86 L598.42 514.35 L599.64 513.85 L600.86 513.35 L602.09 512.86 L603.31 512.37 L604.53 511.89 L605.76 511.42 L606.98 510.95 L608.20 510.48 L609.42 510.03 L610.65 509.58 L611.87 509.13 L613.09 508.69 L614.32 508.26 L615.54 507.83 L616.76 507.41 L617.99 507.00 L619.21 506.59 L620.43 506.18 L621.65 505.79 L622.88 505.40 L624.10 505.01 L625.32 504.63 L626.55 504.25 L627.77 503.88 L628.99 503.52 L630.21 503.16 L631.44 502.81 L632.66 502.46 L633.88 502.11 L635.11 501.77 L636.33 501.44 L637.55 501.11 L638.77 500.79 L640.00 500.47 L641.22 500.15 L642.44 499.84 L643.67 499.54 L644.89 499.24 L646.11 498.94 L647.34 498.65 L648.56 498.36 L649.78 498.08 L651.00 497.80 L652.23 497.52 L653.45 497.25 L654.67 496.98 L655.90 496.71 L657.12 496.45 L658.34 496.20 L659.56 495.94 L660.79 495.69 L662.01 495.45 L663.23 495.20 L664.46 494.96 L665.68 494.73 L666.90 494.50 L668.12 494.27 L669.35 494.04 L670.57 493.82 L671.79 493.59 L673.02 493.38 L674.24 493.16 L675.46 492.95 L676.69 492.74 L677.91 492.54 L679.13 492.33 L680.35 492.13 L681.58 491.93 L682.80 491.74" stroke="#4a40f2" stroke-width="2.15"/><path d="M389.30 412.54 L390.52 412.82 L391.75 413.12 L392.97 413.41 L394.19 413.72 L395.41 414.03 L396.64 414.35 L397.86 414.67 L399.08 415.00 L400.31 415.34 L401.53 415.68 L402.75 416.03 L403.97 416.39 L405.20 416.76 L406.42 417.13 L407.64 417.52 L408.87 417.91 L410.09 418.31 L411.31 418.72 L412.54 419.14 L413.76 419.57 L414.98 420.00 L416.20 420.45 L417.43 420.91 L418.65 421.38 L419.87 421.86 L421.10 422.34 L422.32 422.85 L423.54 423.36 L424.76 423.88 L425.99 424.42 L427.21 424.97 L428.43 425.53 L429.66 426.10 L430.88 426.69 L432.10 427.30 L433.32 427.91 L434.55 428.54 L435.77 429.19 L436.99 429.85 L438.22 430.53 L439.44 431.23 L440.66 431.94 L441.89 432.67 L443.11 433.41 L444.33 434.18 L445.55 434.96 L446.78 435.76 L448.00 436.58 L449.22 437.42 L450.45 438.28 L451.67 439.17 L452.89 440.07 L454.11 440.99 L455.34 441.94 L456.56 442.91 L457.78 443.91 L459.01 444.93 L460.23 445.97 L461.45 447.03 L462.67 448.13 L463.90 449.24 L465.12 450.39 L466.34 451.56 L467.57 452.75 L468.79 453.98 L470.01 455.23 L471.24 456.51 L472.46 457.82 L473.68 459.15 L474.90 460.52 L476.13 461.91 L477.35 463.33 L478.57 464.78 L479.80 466.26 L481.02 467.76 L482.24 469.30 L483.46 470.86 L484.69 472.44 L485.91 474.06 L487.13 475.70 L488.36 477.36 L489.58 479.05 L490.80 480.76 L492.02 482.49 L493.25 484.23 L494.47 486.00 L495.69 487.78 L496.92 489.58 L498.14 491.38 L499.36 493.19 L500.59 495.01 L501.81 496.83 L503.03 498.65 L504.25 500.46 L505.48 502.27 L506.70 504.06 L507.92 505.83 L509.15 507.59 L510.37 509.31 L511.59 511.01 L512.81 512.67 L514.04 514.28 L515.26 515.85 L516.48 517.37 L517.71 518.83 L518.93 520.23 L520.15 521.56 L521.38 522.82 L522.60 523.99 L523.82 525.09 L525.04 526.09 L526.27 527.01 L527.49 527.82 L528.71 528.54 L529.94 529.15 L531.16 529.65 L532.38 530.05 L533.60 530.33 L534.83 530.50 L536.05 530.56 L537.27 530.50 L538.50 530.33 L539.72 530.05 L540.94 529.65 L542.16 529.15 L543.39 528.54 L544.61 527.82 L545.83 527.01 L547.06 526.09 L548.28 525.09 L549.50 523.99 L550.72 522.82 L551.95 521.56 L553.17 520.23 L554.39 518.83 L555.62 517.37 L556.84 515.85 L558.06 514.28 L559.29 512.67 L560.51 511.01 L561.73 509.31 L562.95 507.59 L564.18 505.83 L565.40 504.06 L566.62 502.27 L567.85 500.46 L569.07 498.65 L570.29 496.83 L571.51 495.01 L572.74 493.19 L573.96 491.38 L575.18 489.58 L576.41 487.78 L577.63 486.00 L578.85 484.23 L580.07 482.49 L581.30 480.76 L582.52 479.05 L583.74 477.36 L584.97 475.70 L586.19 474.06 L587.41 472.44 L588.64 470.86 L589.86 469.30 L591.08 467.76 L592.30 466.26 L593.53 464.78 L594.75 463.33 L595.97 461.91 L597.20 460.52 L598.42 459.15 L599.64 457.82 L600.86 456.51 L602.09 455.23 L603.31 453.98 L604.53 452.75 L605.76 451.56 L606.98 450.39 L608.20 449.24 L609.42 448.13 L610.65 447.03 L611.87 445.97 L613.09 444.93 L614.32 443.91 L615.54 442.91 L616.76 441.94 L617.99 440.99 L619.21 440.07 L620.43 439.17 L621.65 438.28 L622.88 437.42 L624.10 436.58 L625.32 435.76 L626.55 434.96 L627.77 434.18 L628.99 433.41 L630.21 432.67 L631.44 431.94 L632.66 431.23 L633.88 430.53 L635.11 429.85 L636.33 429.19 L637.55 428.54 L638.77 427.91 L640.00 427.30 L641.22 426.69 L642.44 426.10 L643.67 425.53 L644.89 424.97 L646.11 424.42 L647.34 423.88 L648.56 423.36 L649.78 422.85 L651.00 422.34 L652.23 421.86 L653.45 421.38 L654.67 420.91 L655.90 420.45 L657.12 420.00 L658.34 419.57 L659.56 419.14 L660.79 418.72 L662.01 418.31 L663.23 417.91 L664.46 417.52 L665.68 417.13 L666.90 416.76 L668.12 416.39 L669.35 416.03 L670.57 415.68 L671.79 415.34 L673.02 415.00 L674.24 414.67 L675.46 414.35 L676.69 414.03 L677.91 413.72 L679.13 413.41 L680.35 413.12 L681.58 412.82 L682.80 412.54" stroke="#ea4553" stroke-width="2.15"/></g>
<rect x="52.90" y="391.30" width="294.40" height="162.00" fill="none" stroke="#262626" stroke-width="1.6"/>
<line x1="77.43" y1="553.30" x2="77.43" y2="551.40" stroke="#262626" stroke-width="1.1"/><line x1="200.10" y1="553.30" x2="200.10" y2="551.40" stroke="#262626" stroke-width="1.1"/><line x1="322.77" y1="553.30" x2="322.77" y2="551.40" stroke="#262626" stroke-width="1.1"/>
<line x1="52.90" y1="553.30" x2="55.10" y2="553.30" stroke="#262626" stroke-width="1.1"/><line x1="52.90" y1="481.20" x2="55.10" y2="481.20" stroke="#262626" stroke-width="1.1"/><line x1="52.90" y1="409.10" x2="55.10" y2="409.10" stroke="#262626" stroke-width="1.1"/>
<text x="41.96" y="558.94" font-family='"Liberation Serif",serif' font-size="17.20" font-weight="bold" font-style="normal" fill="#000" textLength="9.46" lengthAdjust="spacingAndGlyphs">0</text><text x="42.22" y="486.84" font-family='"Liberation Serif",serif' font-size="17.20" font-weight="bold" font-style="normal" fill="#000" textLength="9.46" lengthAdjust="spacingAndGlyphs">1</text><text x="42.05" y="414.74" font-family='"Liberation Serif",serif' font-size="17.20" font-weight="bold" font-style="normal" fill="#000" textLength="9.46" lengthAdjust="spacingAndGlyphs">2</text>
<rect x="389.30" y="392.20" width="293.50" height="161.30" fill="none" stroke="#262626" stroke-width="1.6"/>
<line x1="413.76" y1="553.50" x2="413.76" y2="551.60" stroke="#262626" stroke-width="1.1"/><line x1="536.05" y1="553.50" x2="536.05" y2="551.60" stroke="#262626" stroke-width="1.1"/><line x1="658.34" y1="553.50" x2="658.34" y2="551.60" stroke="#262626" stroke-width="1.1"/>
<line x1="389.30" y1="392.70" x2="391.50" y2="392.70" stroke="#262626" stroke-width="1.1"/><line x1="389.30" y1="464.50" x2="391.50" y2="464.50" stroke="#262626" stroke-width="1.1"/><line x1="389.30" y1="536.30" x2="391.50" y2="536.30" stroke="#262626" stroke-width="1.1"/>
<text x="378.36" y="398.34" font-family='"Liberation Serif",serif' font-size="17.20" font-weight="bold" font-style="normal" fill="#000" textLength="9.46" lengthAdjust="spacingAndGlyphs">0</text><text x="366.32" y="470.14" font-family='"Liberation Serif",serif' font-size="17.20" font-weight="bold" font-style="normal" fill="#000" textLength="21.83" lengthAdjust="spacingAndGlyphs">−1</text><text x="366.33" y="541.94" font-family='"Liberation Serif",serif' font-size="17.20" font-weight="bold" font-style="normal" fill="#000" textLength="21.64" lengthAdjust="spacingAndGlyphs">−2</text>
<g clip-path="url(#cdL)" fill="none"><path d="M55.00 734.18 L56.21 734.09 L57.42 733.99 L58.63 733.90 L59.84 733.80 L61.05 733.69 L62.26 733.59 L63.47 733.48 L64.68 733.37 L65.89 733.26 L67.10 733.14 L68.31 733.02 L69.52 732.89 L70.74 732.76 L71.95 732.63 L73.16 732.49 L74.37 732.35 L75.58 732.21 L76.79 732.06 L78.00 731.91 L79.21 731.75 L80.42 731.59 L81.63 731.42 L82.84 731.24 L84.05 731.06 L85.26 730.88 L86.47 730.69 L87.68 730.49 L88.89 730.29 L90.10 730.08 L91.31 729.87 L92.52 729.64 L93.73 729.41 L94.94 729.18 L96.15 728.93 L97.36 728.68 L98.58 728.42 L99.79 728.15 L101.00 727.87 L102.21 727.58 L103.42 727.29 L104.63 726.98 L105.84 726.66 L107.05 726.33 L108.26 725.99 L109.47 725.64 L110.68 725.28 L111.89 724.90 L113.10 724.52 L114.31 724.11 L115.52 723.70 L116.73 723.27 L117.94 722.83 L119.15 722.37 L120.36 721.89 L121.57 721.40 L122.78 720.90 L123.99 720.37 L125.20 719.83 L126.41 719.27 L127.62 718.69 L128.84 718.09 L130.05 717.47 L131.26 716.83 L132.47 716.17 L133.68 715.49 L134.89 714.78 L136.10 714.05 L137.31 713.30 L138.52 712.52 L139.73 711.72 L140.94 710.90 L142.15 710.05 L143.36 709.17 L144.57 708.27 L145.78 707.34 L146.99 706.38 L148.20 705.40 L149.41 704.38 L150.62 703.35 L151.83 702.28 L153.04 701.19 L154.25 700.07 L155.46 698.93 L156.68 697.76 L157.89 696.57 L159.10 695.35 L160.31 694.11 L161.52 692.85 L162.73 691.58 L163.94 690.28 L165.15 688.97 L166.36 687.64 L167.57 686.31 L168.78 684.97 L169.99 683.62 L171.20 682.27 L172.41 680.92 L173.62 679.58 L174.83 678.25 L176.04 676.93 L177.25 675.64 L178.46 674.36 L179.67 673.12 L180.88 671.91 L182.09 670.74 L183.30 669.61 L184.51 668.53 L185.72 667.50 L186.94 666.54 L188.15 665.64 L189.36 664.81 L190.57 664.05 L191.78 663.37 L192.99 662.78 L194.20 662.27 L195.41 661.85 L196.62 661.51 L197.83 661.28 L199.04 661.13 L200.25 661.09 L201.46 661.13 L202.67 661.28 L203.88 661.51 L205.09 661.85 L206.30 662.27 L207.51 662.78 L208.72 663.37 L209.93 664.05 L211.14 664.81 L212.35 665.64 L213.56 666.54 L214.78 667.50 L215.99 668.53 L217.20 669.61 L218.41 670.74 L219.62 671.91 L220.83 673.12 L222.04 674.36 L223.25 675.64 L224.46 676.93 L225.67 678.25 L226.88 679.58 L228.09 680.92 L229.30 682.27 L230.51 683.62 L231.72 684.97 L232.93 686.31 L234.14 687.64 L235.35 688.97 L236.56 690.28 L237.77 691.58 L238.98 692.85 L240.19 694.11 L241.40 695.35 L242.61 696.57 L243.82 697.76 L245.04 698.93 L246.25 700.07 L247.46 701.19 L248.67 702.28 L249.88 703.35 L251.09 704.38 L252.30 705.40 L253.51 706.38 L254.72 707.34 L255.93 708.27 L257.14 709.17 L258.35 710.05 L259.56 710.90 L260.77 711.72 L261.98 712.52 L263.19 713.30 L264.40 714.05 L265.61 714.78 L266.82 715.49 L268.03 716.17 L269.24 716.83 L270.45 717.47 L271.66 718.09 L272.88 718.69 L274.09 719.27 L275.30 719.83 L276.51 720.37 L277.72 720.90 L278.93 721.40 L280.14 721.89 L281.35 722.37 L282.56 722.83 L283.77 723.27 L284.98 723.70 L286.19 724.11 L287.40 724.52 L288.61 724.90 L289.82 725.28 L291.03 725.64 L292.24 725.99 L293.45 726.33 L294.66 726.66 L295.87 726.98 L297.08 727.29 L298.29 727.58 L299.50 727.87 L300.71 728.15 L301.93 728.42 L303.14 728.68 L304.35 728.93 L305.56 729.18 L306.77 729.41 L307.98 729.64 L309.19 729.87 L310.40 730.08 L311.61 730.29 L312.82 730.49 L314.03 730.69 L315.24 730.88 L316.45 731.06 L317.66 731.24 L318.87 731.42 L320.08 731.59 L321.29 731.75 L322.50 731.91 L323.71 732.06 L324.92 732.21 L326.13 732.35 L327.34 732.49 L328.55 732.63 L329.76 732.76 L330.98 732.89 L332.19 733.02 L333.40 733.14 L334.61 733.26 L335.82 733.37 L337.03 733.48 L338.24 733.59 L339.45 733.69 L340.66 733.80 L341.87 733.90 L343.08 733.99 L344.29 734.09 L345.50 734.18" stroke="#4a40f2" stroke-width="2.3"/><path d="M55.00 737.28 L56.21 737.24 L57.42 737.20 L58.63 737.16 L59.84 737.11 L61.05 737.06 L62.26 737.01 L63.47 736.96 L64.68 736.90 L65.89 736.85 L67.10 736.79 L68.31 736.72 L69.52 736.66 L70.74 736.59 L71.95 736.52 L73.16 736.44 L74.37 736.36 L75.58 736.28 L76.79 736.20 L78.00 736.11 L79.21 736.01 L80.42 735.91 L81.63 735.81 L82.84 735.70 L84.05 735.59 L85.26 735.47 L86.47 735.34 L87.68 735.21 L88.89 735.07 L90.10 734.93 L91.31 734.77 L92.52 734.61 L93.73 734.45 L94.94 734.27 L96.15 734.08 L97.36 733.89 L98.58 733.68 L99.79 733.47 L101.00 733.24 L102.21 733.00 L103.42 732.75 L104.63 732.49 L105.84 732.21 L107.05 731.92 L108.26 731.61 L109.47 731.28 L110.68 730.94 L111.89 730.58 L113.10 730.19 L114.31 729.79 L115.52 729.37 L116.73 728.92 L117.94 728.45 L119.15 727.95 L120.36 727.43 L121.57 726.87 L122.78 726.29 L123.99 725.67 L125.20 725.02 L126.41 724.34 L127.62 723.61 L128.84 722.85 L130.05 722.04 L131.26 721.19 L132.47 720.29 L133.68 719.34 L134.89 718.34 L136.10 717.29 L137.31 716.18 L138.52 715.01 L139.73 713.78 L140.94 712.48 L142.15 711.11 L143.36 709.67 L144.57 708.15 L145.78 706.56 L146.99 704.89 L148.20 703.13 L149.41 701.28 L150.62 699.35 L151.83 697.32 L153.04 695.20 L154.25 692.98 L155.46 690.66 L156.68 688.25 L157.89 685.73 L159.10 683.11 L160.31 680.39 L161.52 677.56 L162.73 674.64 L163.94 671.61 L165.15 668.49 L166.36 665.29 L167.57 661.99 L168.78 658.61 L169.99 655.16 L171.20 651.65 L172.41 648.08 L173.62 644.47 L174.83 640.82 L176.04 637.16 L177.25 633.50 L178.46 629.85 L179.67 626.23 L180.88 622.66 L182.09 619.16 L183.30 615.75 L184.51 612.46 L185.72 609.29 L186.94 606.28 L188.15 603.45 L189.36 600.81 L190.57 598.38 L191.78 596.20 L192.99 594.26 L194.20 592.59 L195.41 591.21 L196.62 590.12 L197.83 589.34 L199.04 588.86 L200.25 588.70 L201.46 588.86 L202.67 589.34 L203.88 590.12 L205.09 591.21 L206.30 592.59 L207.51 594.26 L208.72 596.20 L209.93 598.38 L211.14 600.81 L212.35 603.45 L213.56 606.28 L214.78 609.29 L215.99 612.46 L217.20 615.75 L218.41 619.16 L219.62 622.66 L220.83 626.23 L222.04 629.85 L223.25 633.50 L224.46 637.16 L225.67 640.82 L226.88 644.47 L228.09 648.08 L229.30 651.65 L230.51 655.16 L231.72 658.61 L232.93 661.99 L234.14 665.29 L235.35 668.49 L236.56 671.61 L237.77 674.64 L238.98 677.56 L240.19 680.39 L241.40 683.11 L242.61 685.73 L243.82 688.25 L245.04 690.66 L246.25 692.98 L247.46 695.20 L248.67 697.32 L249.88 699.35 L251.09 701.28 L252.30 703.13 L253.51 704.89 L254.72 706.56 L255.93 708.15 L257.14 709.67 L258.35 711.11 L259.56 712.48 L260.77 713.78 L261.98 715.01 L263.19 716.18 L264.40 717.29 L265.61 718.34 L266.82 719.34 L268.03 720.29 L269.24 721.19 L270.45 722.04 L271.66 722.85 L272.88 723.61 L274.09 724.34 L275.30 725.02 L276.51 725.67 L277.72 726.29 L278.93 726.87 L280.14 727.43 L281.35 727.95 L282.56 728.45 L283.77 728.92 L284.98 729.37 L286.19 729.79 L287.40 730.19 L288.61 730.58 L289.82 730.94 L291.03 731.28 L292.24 731.61 L293.45 731.92 L294.66 732.21 L295.87 732.49 L297.08 732.75 L298.29 733.00 L299.50 733.24 L300.71 733.47 L301.93 733.68 L303.14 733.89 L304.35 734.08 L305.56 734.27 L306.77 734.45 L307.98 734.61 L309.19 734.77 L310.40 734.93 L311.61 735.07 L312.82 735.21 L314.03 735.34 L315.24 735.47 L316.45 735.59 L317.66 735.70 L318.87 735.81 L320.08 735.91 L321.29 736.01 L322.50 736.11 L323.71 736.20 L324.92 736.28 L326.13 736.36 L327.34 736.44 L328.55 736.52 L329.76 736.59 L330.98 736.66 L332.19 736.72 L333.40 736.79 L334.61 736.85 L335.82 736.90 L337.03 736.96 L338.24 737.01 L339.45 737.06 L340.66 737.11 L341.87 737.16 L343.08 737.20 L344.29 737.24 L345.50 737.28" stroke="#ea4553" stroke-width="2.3"/></g>
<rect x="55.00" y="578.60" width="290.50" height="159.80" fill="none" stroke="#262626" stroke-width="1.6"/>
<line x1="79.21" y1="738.40" x2="79.21" y2="736.50" stroke="#262626" stroke-width="1.1"/><line x1="200.25" y1="738.40" x2="200.25" y2="736.50" stroke="#262626" stroke-width="1.1"/><line x1="321.29" y1="738.40" x2="321.29" y2="736.50" stroke="#262626" stroke-width="1.1"/>
<line x1="55.00" y1="738.40" x2="57.20" y2="738.40" stroke="#262626" stroke-width="1.1"/><line x1="55.00" y1="691.40" x2="57.20" y2="691.40" stroke="#262626" stroke-width="1.1"/><line x1="55.00" y1="644.40" x2="57.20" y2="644.40" stroke="#262626" stroke-width="1.1"/><line x1="55.00" y1="597.40" x2="57.20" y2="597.40" stroke="#262626" stroke-width="1.1"/>
<text x="44.06" y="744.04" font-family='"Liberation Serif",serif' font-size="17.20" font-weight="bold" font-style="normal" fill="#000" textLength="9.46" lengthAdjust="spacingAndGlyphs">0</text><text x="34.60" y="697.04" font-family='"Liberation Serif",serif' font-size="17.20" font-weight="bold" font-style="normal" fill="#000" textLength="18.92" lengthAdjust="spacingAndGlyphs">10</text><text x="34.60" y="650.04" font-family='"Liberation Serif",serif' font-size="17.20" font-weight="bold" font-style="normal" fill="#000" textLength="18.92" lengthAdjust="spacingAndGlyphs">20</text><text x="34.60" y="603.04" font-family='"Liberation Serif",serif' font-size="17.20" font-weight="bold" font-style="normal" fill="#000" textLength="18.92" lengthAdjust="spacingAndGlyphs">30</text>
<text x="61.44" y="755.40" font-family='"Liberation Serif",serif' font-size="17.20" font-weight="bold" font-style="normal" fill="#000" textLength="35.23" lengthAdjust="spacingAndGlyphs">−0.5</text>
<text x="188.70" y="755.40" font-family='"Liberation Serif",serif' font-size="17.20" font-weight="bold" font-style="normal" fill="#000" textLength="23.11" lengthAdjust="spacingAndGlyphs">0.0</text>
<text x="309.84" y="755.40" font-family='"Liberation Serif",serif' font-size="17.20" font-weight="bold" font-style="normal" fill="#000" textLength="22.87" lengthAdjust="spacingAndGlyphs">0.5</text>
<text x="174.96" y="777.40" font-family='"Liberation Serif",serif' font-size="17.50" font-weight="bold" font-style="italic" fill="#000" textLength="9.42" lengthAdjust="spacingAndGlyphs">q</text>
<text x="189.57" y="778.30" font-family='"Liberation Serif",serif' font-size="17.90" font-weight="normal" font-style="normal" fill="#000" textLength="4.19" lengthAdjust="spacingAndGlyphs">[</text>
<text x="195.41" y="777.60" font-family='"Liberation Serif",serif' font-size="15.30" font-weight="normal" font-style="italic" fill="#000" textLength="9.04" lengthAdjust="spacingAndGlyphs">Å</text>
<text x="205.43" y="770.00" font-family='"Liberation Serif",serif' font-size="11.00" font-weight="normal" font-style="italic" fill="#000" textLength="15.15" lengthAdjust="spacingAndGlyphs">−1</text>
<text x="220.45" y="778.30" font-family='"Liberation Serif",serif' font-size="17.90" font-weight="normal" font-style="normal" fill="#000" textLength="4.19" lengthAdjust="spacingAndGlyphs">]</text>
<g clip-path="url(#cdR)" fill="none"><path d="M390.40 735.08 L391.61 734.98 L392.82 734.89 L394.03 734.79 L395.24 734.69 L396.45 734.59 L397.66 734.49 L398.87 734.38 L400.08 734.27 L401.29 734.15 L402.50 734.03 L403.71 733.91 L404.92 733.79 L406.14 733.66 L407.35 733.53 L408.56 733.39 L409.77 733.25 L410.98 733.10 L412.19 732.96 L413.40 732.80 L414.61 732.64 L415.82 732.48 L417.03 732.31 L418.24 732.14 L419.45 731.96 L420.66 731.77 L421.87 731.58 L423.08 731.39 L424.29 731.19 L425.50 730.98 L426.71 730.76 L427.92 730.54 L429.13 730.31 L430.34 730.07 L431.55 729.83 L432.76 729.57 L433.97 729.31 L435.19 729.04 L436.40 728.76 L437.61 728.47 L438.82 728.18 L440.03 727.87 L441.24 727.55 L442.45 727.22 L443.66 726.88 L444.87 726.53 L446.08 726.17 L447.29 725.79 L448.50 725.41 L449.71 725.00 L450.92 724.59 L452.13 724.16 L453.34 723.72 L454.55 723.26 L455.76 722.78 L456.97 722.29 L458.18 721.78 L459.39 721.26 L460.60 720.72 L461.81 720.16 L463.02 719.58 L464.24 718.98 L465.45 718.36 L466.66 717.72 L467.87 717.05 L469.08 716.37 L470.29 715.66 L471.50 714.94 L472.71 714.18 L473.92 713.41 L475.13 712.60 L476.34 711.78 L477.55 710.93 L478.76 710.05 L479.97 709.14 L481.18 708.21 L482.39 707.26 L483.60 706.27 L484.81 705.26 L486.02 704.22 L487.23 703.16 L488.44 702.06 L489.65 700.95 L490.86 699.80 L492.07 698.63 L493.29 697.44 L494.50 696.22 L495.71 694.98 L496.92 693.72 L498.13 692.44 L499.34 691.15 L500.55 689.83 L501.76 688.51 L502.97 687.17 L504.18 685.83 L505.39 684.48 L506.60 683.13 L507.81 681.78 L509.02 680.44 L510.23 679.11 L511.44 677.79 L512.65 676.49 L513.86 675.22 L515.07 673.97 L516.28 672.76 L517.49 671.59 L518.70 670.46 L519.91 669.38 L521.12 668.35 L522.34 667.39 L523.55 666.49 L524.76 665.66 L525.97 664.90 L527.18 664.22 L528.39 663.62 L529.60 663.11 L530.81 662.69 L532.02 662.36 L533.23 662.12 L534.44 661.98 L535.65 661.93 L536.86 661.98 L538.07 662.12 L539.28 662.36 L540.49 662.69 L541.70 663.11 L542.91 663.62 L544.12 664.22 L545.33 664.90 L546.54 665.66 L547.75 666.49 L548.96 667.39 L550.17 668.35 L551.39 669.38 L552.60 670.46 L553.81 671.59 L555.02 672.76 L556.23 673.97 L557.44 675.22 L558.65 676.49 L559.86 677.79 L561.07 679.11 L562.28 680.44 L563.49 681.78 L564.70 683.13 L565.91 684.48 L567.12 685.83 L568.33 687.17 L569.54 688.51 L570.75 689.83 L571.96 691.15 L573.17 692.44 L574.38 693.72 L575.59 694.98 L576.80 696.22 L578.01 697.44 L579.22 698.63 L580.44 699.80 L581.65 700.95 L582.86 702.06 L584.07 703.16 L585.28 704.22 L586.49 705.26 L587.70 706.27 L588.91 707.26 L590.12 708.21 L591.33 709.14 L592.54 710.05 L593.75 710.93 L594.96 711.78 L596.17 712.60 L597.38 713.41 L598.59 714.18 L599.80 714.94 L601.01 715.66 L602.22 716.37 L603.43 717.05 L604.64 717.72 L605.85 718.36 L607.06 718.98 L608.27 719.58 L609.49 720.16 L610.70 720.72 L611.91 721.26 L613.12 721.78 L614.33 722.29 L615.54 722.78 L616.75 723.26 L617.96 723.72 L619.17 724.16 L620.38 724.59 L621.59 725.00 L622.80 725.41 L624.01 725.79 L625.22 726.17 L626.43 726.53 L627.64 726.88 L628.85 727.22 L630.06 727.55 L631.27 727.87 L632.48 728.18 L633.69 728.47 L634.90 728.76 L636.11 729.04 L637.33 729.31 L638.54 729.57 L639.75 729.83 L640.96 730.07 L642.17 730.31 L643.38 730.54 L644.59 730.76 L645.80 730.98 L647.01 731.19 L648.22 731.39 L649.43 731.58 L650.64 731.77 L651.85 731.96 L653.06 732.14 L654.27 732.31 L655.48 732.48 L656.69 732.64 L657.90 732.80 L659.11 732.96 L660.32 733.10 L661.53 733.25 L662.74 733.39 L663.95 733.53 L665.16 733.66 L666.38 733.79 L667.59 733.91 L668.80 734.03 L670.01 734.15 L671.22 734.27 L672.43 734.38 L673.64 734.49 L674.85 734.59 L676.06 734.69 L677.27 734.79 L678.48 734.89 L679.69 734.98 L680.90 735.08" stroke="#4a40f2" stroke-width="2.3"/><path d="M390.40 738.18 L391.61 738.14 L392.82 738.10 L394.03 738.06 L395.24 738.01 L396.45 737.96 L397.66 737.91 L398.87 737.86 L400.08 737.80 L401.29 737.75 L402.50 737.69 L403.71 737.62 L404.92 737.56 L406.14 737.49 L407.35 737.42 L408.56 737.34 L409.77 737.26 L410.98 737.18 L412.19 737.09 L413.40 737.00 L414.61 736.91 L415.82 736.81 L417.03 736.71 L418.24 736.60 L419.45 736.48 L420.66 736.36 L421.87 736.24 L423.08 736.11 L424.29 735.97 L425.50 735.82 L426.71 735.67 L427.92 735.51 L429.13 735.34 L430.34 735.17 L431.55 734.98 L432.76 734.79 L433.97 734.58 L435.19 734.37 L436.40 734.14 L437.61 733.90 L438.82 733.65 L440.03 733.38 L441.24 733.10 L442.45 732.81 L443.66 732.50 L444.87 732.18 L446.08 731.83 L447.29 731.47 L448.50 731.09 L449.71 730.69 L450.92 730.26 L452.13 729.81 L453.34 729.34 L454.55 728.85 L455.76 728.32 L456.97 727.77 L458.18 727.18 L459.39 726.56 L460.60 725.91 L461.81 725.23 L463.02 724.50 L464.24 723.74 L465.45 722.93 L466.66 722.08 L467.87 721.18 L469.08 720.23 L470.29 719.23 L471.50 718.18 L472.71 717.06 L473.92 715.89 L475.13 714.66 L476.34 713.36 L477.55 711.99 L478.76 710.55 L479.97 709.03 L481.18 707.44 L482.39 705.76 L483.60 704.00 L484.81 702.16 L486.02 700.22 L487.23 698.19 L488.44 696.07 L489.65 693.85 L490.86 691.53 L492.07 689.11 L493.29 686.59 L494.50 683.97 L495.71 681.24 L496.92 678.42 L498.13 675.49 L499.34 672.47 L500.55 669.35 L501.76 666.13 L502.97 662.83 L504.18 659.46 L505.39 656.00 L506.60 652.49 L507.81 648.92 L509.02 645.30 L510.23 641.65 L511.44 637.99 L512.65 634.32 L513.86 630.67 L515.07 627.05 L516.28 623.48 L517.49 619.98 L518.70 616.57 L519.91 613.27 L521.12 610.10 L522.34 607.09 L523.55 604.25 L524.76 601.61 L525.97 599.18 L527.18 596.99 L528.39 595.06 L529.60 593.39 L530.81 592.01 L532.02 590.92 L533.23 590.13 L534.44 589.66 L535.65 589.50 L536.86 589.66 L538.07 590.13 L539.28 590.92 L540.49 592.01 L541.70 593.39 L542.91 595.06 L544.12 596.99 L545.33 599.18 L546.54 601.61 L547.75 604.25 L548.96 607.09 L550.17 610.10 L551.39 613.27 L552.60 616.57 L553.81 619.98 L555.02 623.48 L556.23 627.05 L557.44 630.67 L558.65 634.32 L559.86 637.99 L561.07 641.65 L562.28 645.30 L563.49 648.92 L564.70 652.49 L565.91 656.00 L567.12 659.46 L568.33 662.83 L569.54 666.13 L570.75 669.35 L571.96 672.47 L573.17 675.49 L574.38 678.42 L575.59 681.24 L576.80 683.97 L578.01 686.59 L579.22 689.11 L580.44 691.53 L581.65 693.85 L582.86 696.07 L584.07 698.19 L585.28 700.22 L586.49 702.16 L587.70 704.00 L588.91 705.76 L590.12 707.44 L591.33 709.03 L592.54 710.55 L593.75 711.99 L594.96 713.36 L596.17 714.66 L597.38 715.89 L598.59 717.06 L599.80 718.18 L601.01 719.23 L602.22 720.23 L603.43 721.18 L604.64 722.08 L605.85 722.93 L607.06 723.74 L608.27 724.50 L609.49 725.23 L610.70 725.91 L611.91 726.56 L613.12 727.18 L614.33 727.77 L615.54 728.32 L616.75 728.85 L617.96 729.34 L619.17 729.81 L620.38 730.26 L621.59 730.69 L622.80 731.09 L624.01 731.47 L625.22 731.83 L626.43 732.18 L627.64 732.50 L628.85 732.81 L630.06 733.10 L631.27 733.38 L632.48 733.65 L633.69 733.90 L634.90 734.14 L636.11 734.37 L637.33 734.58 L638.54 734.79 L639.75 734.98 L640.96 735.17 L642.17 735.34 L643.38 735.51 L644.59 735.67 L645.80 735.82 L647.01 735.97 L648.22 736.11 L649.43 736.24 L650.64 736.36 L651.85 736.48 L653.06 736.60 L654.27 736.71 L655.48 736.81 L656.69 736.91 L657.90 737.00 L659.11 737.09 L660.32 737.18 L661.53 737.26 L662.74 737.34 L663.95 737.42 L665.16 737.49 L666.38 737.56 L667.59 737.62 L668.80 737.69 L670.01 737.75 L671.22 737.80 L672.43 737.86 L673.64 737.91 L674.85 737.96 L676.06 738.01 L677.27 738.06 L678.48 738.10 L679.69 738.14 L680.90 738.18" stroke="#ea4553" stroke-width="2.3"/></g>
<rect x="390.40" y="579.50" width="290.50" height="159.50" fill="none" stroke="#262626" stroke-width="1.6"/>
<line x1="414.61" y1="739.00" x2="414.61" y2="737.10" stroke="#262626" stroke-width="1.1"/><line x1="535.65" y1="739.00" x2="535.65" y2="737.10" stroke="#262626" stroke-width="1.1"/><line x1="656.69" y1="739.00" x2="656.69" y2="737.10" stroke="#262626" stroke-width="1.1"/>
<line x1="390.40" y1="739.30" x2="392.60" y2="739.30" stroke="#262626" stroke-width="1.1"/><line x1="390.40" y1="692.27" x2="392.60" y2="692.27" stroke="#262626" stroke-width="1.1"/><line x1="390.40" y1="645.23" x2="392.60" y2="645.23" stroke="#262626" stroke-width="1.1"/><line x1="390.40" y1="598.20" x2="392.60" y2="598.20" stroke="#262626" stroke-width="1.1"/>
<text x="379.46" y="744.94" font-family='"Liberation Serif",serif' font-size="17.20" font-weight="bold" font-style="normal" fill="#000" textLength="9.46" lengthAdjust="spacingAndGlyphs">0</text><text x="370.00" y="697.91" font-family='"Liberation Serif",serif' font-size="17.20" font-weight="bold" font-style="normal" fill="#000" textLength="18.92" lengthAdjust="spacingAndGlyphs">10</text><text x="370.00" y="650.87" font-family='"Liberation Serif",serif' font-size="17.20" font-weight="bold" font-style="normal" fill="#000" textLength="18.92" lengthAdjust="spacingAndGlyphs">20</text><text x="370.00" y="603.84" font-family='"Liberation Serif",serif' font-size="17.20" font-weight="bold" font-style="normal" fill="#000" textLength="18.92" lengthAdjust="spacingAndGlyphs">30</text>
<text x="396.84" y="755.40" font-family='"Liberation Serif",serif' font-size="17.20" font-weight="bold" font-style="normal" fill="#000" textLength="35.23" lengthAdjust="spacingAndGlyphs">−0.5</text>
<text x="524.10" y="755.40" font-family='"Liberation Serif",serif' font-size="17.20" font-weight="bold" font-style="normal" fill="#000" textLength="23.11" lengthAdjust="spacingAndGlyphs">0.0</text>
<text x="645.24" y="755.40" font-family='"Liberation Serif",serif' font-size="17.20" font-weight="bold" font-style="normal" fill="#000" textLength="22.87" lengthAdjust="spacingAndGlyphs">0.5</text>
<text x="510.36" y="777.40" font-family='"Liberation Serif",serif' font-size="17.50" font-weight="bold" font-style="italic" fill="#000" textLength="9.42" lengthAdjust="spacingAndGlyphs">q</text>
<text x="524.97" y="778.30" font-family='"Liberation Serif",serif' font-size="17.90" font-weight="normal" font-style="normal" fill="#000" textLength="4.19" lengthAdjust="spacingAndGlyphs">[</text>
<text x="530.81" y="777.60" font-family='"Liberation Serif",serif' font-size="15.30" font-weight="normal" font-style="italic" fill="#000" textLength="9.04" lengthAdjust="spacingAndGlyphs">Å</text>
<text x="540.83" y="770.00" font-family='"Liberation Serif",serif' font-size="11.00" font-weight="normal" font-style="italic" fill="#000" textLength="15.15" lengthAdjust="spacingAndGlyphs">−1</text>
<text x="555.85" y="778.30" font-family='"Liberation Serif",serif' font-size="17.90" font-weight="normal" font-style="normal" fill="#000" textLength="4.19" lengthAdjust="spacingAndGlyphs">]</text>
<line x1="233.3" y1="593.5" x2="255" y2="593.5" stroke="#3a7bba" stroke-width="3"/>
<line x1="233.3" y1="611.9" x2="255" y2="611.9" stroke="#d82a2c" stroke-width="3.2"/>
<text x="262.56" y="597.90" font-family='"Liberation Sans",sans-serif' font-size="12.70" font-weight="normal" font-style="normal" fill="#1e1e1e" textLength="76.72" lengthAdjust="spacingAndGlyphs">Intra-atomic</text>
<text x="263.00" y="615.60" font-family='"Liberation Sans",sans-serif' font-size="12.80" font-weight="normal" font-style="normal" fill="#1e1e1e" textLength="70.31" lengthAdjust="spacingAndGlyphs">Bloch OMM</text>
<text x="166.80" y="13.80" font-family='"Liberation Serif",serif' font-size="18.40" font-weight="normal" font-style="normal" fill="#111" textLength="44.67" lengthAdjust="spacingAndGlyphs">valley</text>
<text x="217.75" y="14.60" font-family='"Liberation Serif",serif' font-size="18.30" font-weight="bold" font-style="normal" fill="#111" textLength="15.81" lengthAdjust="spacingAndGlyphs">K</text>
<text x="505.90" y="13.80" font-family='"Liberation Serif",serif' font-size="18.00" font-weight="normal" font-style="normal" fill="#111" textLength="44.77" lengthAdjust="spacingAndGlyphs">valley</text>
<text x="563.86" y="15.80" font-family='"Liberation Serif",serif' font-size="19.00" font-weight="bold" font-style="normal" fill="#111" textLength="15.60" lengthAdjust="spacingAndGlyphs">K</text>
<path d="M583.2 1.8 L585.0 2.1 L581.6 8.8 L580.7 8.5 Z" fill="#111"/>
<text x="0.61" y="30.55" font-family='"Liberation Sans",sans-serif' font-size="16.20" font-weight="normal" font-style="normal" fill="#1a1a1a" textLength="22.43" lengthAdjust="spacingAndGlyphs">(a)</text>
<text x="0.36" y="217.62" font-family='"Liberation Sans",sans-serif' font-size="16.31" font-weight="normal" font-style="normal" fill="#1a1a1a" textLength="22.37" lengthAdjust="spacingAndGlyphs">(b)</text>
<text x="-0.03" y="403.27" font-family='"Liberation Sans",sans-serif' font-size="19.96" font-weight="normal" font-style="normal" fill="#1a1a1a" textLength="23.16" lengthAdjust="spacingAndGlyphs">(c)</text>
<text x="2.36" y="588.82" font-family='"Liberation Sans",sans-serif' font-size="16.31" font-weight="normal" font-style="normal" fill="#1a1a1a" textLength="22.37" lengthAdjust="spacingAndGlyphs">(d)</text>
<text x="-147.37" y="14.40" font-family='"Liberation Serif",serif' font-size="16.50" font-weight="bold" font-style="italic" fill="#000" textLength="52.32" lengthAdjust="spacingAndGlyphs" transform="rotate(-90)">Energy</text>
<text x="-91.83" y="14.60" font-family='"Liberation Serif",serif' font-size="17.00" font-weight="normal" font-style="normal" fill="#000" textLength="5.53" lengthAdjust="spacingAndGlyphs" transform="rotate(-90)">[</text>
<text x="-84.92" y="15.00" font-family='"Liberation Serif",serif' font-size="17.50" font-weight="bold" font-style="italic" fill="#000" textLength="7.91" lengthAdjust="spacingAndGlyphs" transform="rotate(-90)">e</text>
<text x="-76.78" y="15.00" font-family='"Liberation Serif",serif' font-size="17.50" font-weight="bold" font-style="italic" fill="#000" textLength="9.96" lengthAdjust="spacingAndGlyphs" transform="rotate(-90)">V</text>
<text x="-65.00" y="14.60" font-family='"Liberation Serif",serif' font-size="17.00" font-weight="normal" font-style="normal" fill="#000" textLength="6.43" lengthAdjust="spacingAndGlyphs" transform="rotate(-90)">]</text>
<text x="-314.56" y="19.70" font-family='"Liberation Serif",serif' font-size="17.60" font-weight="bold" font-style="normal" fill="#000" textLength="11.71" lengthAdjust="spacingAndGlyphs" transform="rotate(-90)">Ω</text>
<text x="-302.00" y="22.90" font-family='"Liberation Serif",serif' font-size="13.00" font-weight="bold" font-style="italic" fill="#000" textLength="7.51" lengthAdjust="spacingAndGlyphs" transform="rotate(-90)">B</text>
<text x="-293.40" y="20.60" font-family='"Liberation Serif",serif' font-size="17.60" font-weight="bold" font-style="normal" fill="#000" textLength="6.28" lengthAdjust="spacingAndGlyphs" transform="rotate(-90)">[</text>
<text x="-286.83" y="19.70" font-family='"Liberation Serif",serif' font-size="14.80" font-weight="bold" font-style="normal" fill="#000" textLength="9.53" lengthAdjust="spacingAndGlyphs" transform="rotate(-90)">Å</text>
<text x="-276.15" y="11.10" font-family='"Liberation Serif",serif' font-size="9.50" font-weight="normal" font-style="normal" fill="#000" textLength="6.24" lengthAdjust="spacingAndGlyphs" transform="rotate(-90)">2</text>
<text x="-269.43" y="20.60" font-family='"Liberation Serif",serif' font-size="17.60" font-weight="bold" font-style="normal" fill="#000" textLength="5.83" lengthAdjust="spacingAndGlyphs" transform="rotate(-90)">]</text>
<text x="-490.70" y="22.70" font-family='"Liberation Serif",serif' font-size="17.80" font-weight="bold" font-style="italic" fill="#000" textLength="7.99" lengthAdjust="spacingAndGlyphs" transform="rotate(-90)">L</text>
<text x="-481.89" y="25.30" font-family='"Liberation Serif",serif' font-size="10.50" font-weight="bold" font-style="italic" fill="#000" textLength="4.33" lengthAdjust="spacingAndGlyphs" transform="rotate(-90)">z</text>
<text x="-474.97" y="22.40" font-family='"Liberation Serif",serif' font-size="17.80" font-weight="bold" font-style="normal" fill="#000" textLength="4.79" lengthAdjust="spacingAndGlyphs" transform="rotate(-90)">[</text>
<text x="-469.36" y="22.40" font-family='"Liberation Serif",serif' font-size="16.20" font-weight="bold" font-style="italic" fill="#000" textLength="10.28" lengthAdjust="spacingAndGlyphs" transform="rotate(-90)">ħ</text>
<text x="-459.55" y="22.40" font-family='"Liberation Serif",serif' font-size="17.80" font-weight="bold" font-style="normal" fill="#000" textLength="5.98" lengthAdjust="spacingAndGlyphs" transform="rotate(-90)">]</text>
<text x="-686.78" y="20.80" font-family='"Liberation Serif",serif' font-size="18.50" font-weight="normal" font-style="normal" fill="#000" textLength="14.06" lengthAdjust="spacingAndGlyphs" transform="rotate(-90)">Ω</text>
<text x="-672.22" y="13.80" font-family='"Liberation Serif",serif' font-size="13.00" font-weight="bold" font-style="italic" fill="#000" textLength="6.71" lengthAdjust="spacingAndGlyphs" transform="rotate(-90)">L</text>
<text x="-665.27" y="15.40" font-family='"Liberation Serif",serif' font-size="7.50" font-weight="bold" font-style="italic" fill="#000" textLength="3.11" lengthAdjust="spacingAndGlyphs" transform="rotate(-90)">z</text>
<text x="-672.95" y="24.80" font-family='"Liberation Serif",serif' font-size="13.00" font-weight="normal" font-style="normal" fill="#000" textLength="12.10" lengthAdjust="spacingAndGlyphs" transform="rotate(-90)">yx</text>
<text x="-660.50" y="21.50" font-family='"Liberation Serif",serif' font-size="17.80" font-weight="bold" font-style="normal" fill="#000" textLength="6.28" lengthAdjust="spacingAndGlyphs" transform="rotate(-90)">[</text>
<text x="-653.15" y="21.00" font-family='"Liberation Serif",serif' font-size="15.80" font-weight="bold" font-style="italic" fill="#000" textLength="9.64" lengthAdjust="spacingAndGlyphs" transform="rotate(-90)">Å</text>
<text x="-643.62" y="14.00" font-family='"Liberation Serif",serif' font-size="11.50" font-weight="normal" font-style="normal" fill="#000" textLength="7.11" lengthAdjust="spacingAndGlyphs" transform="rotate(-90)">2</text>
<text x="-637.70" y="21.50" font-family='"Liberation Serif",serif' font-size="17.80" font-weight="bold" font-style="normal" fill="#000" textLength="7.33" lengthAdjust="spacingAndGlyphs" transform="rotate(-90)">]</text>
</svg>
</body></html>
